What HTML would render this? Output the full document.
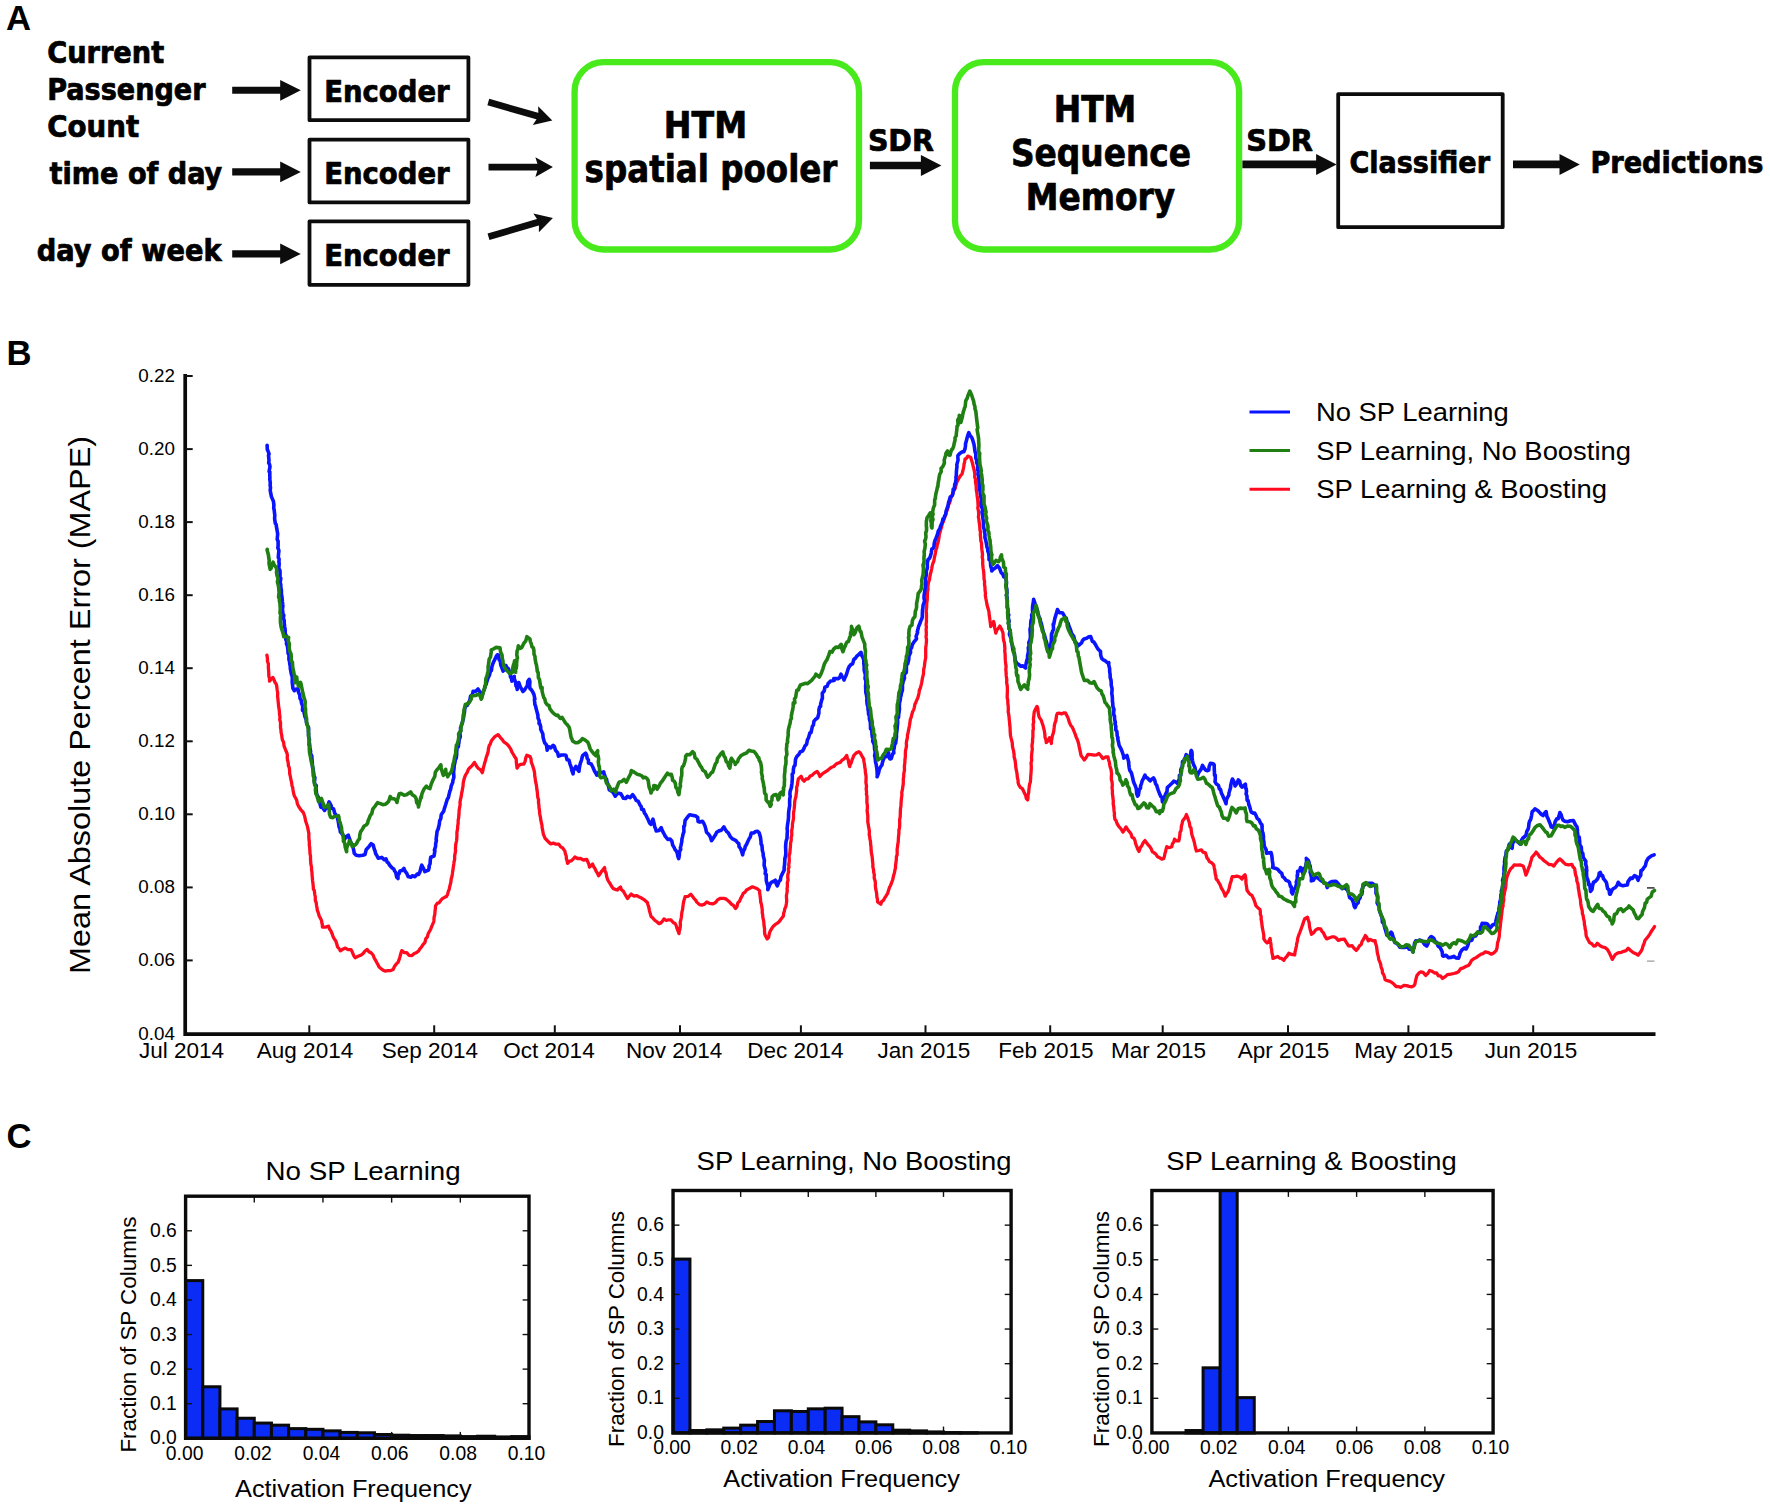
<!DOCTYPE html>
<html lang="en">
<head>
<meta charset="utf-8">
<title>HTM spatial pooler figure</title>
<style>
html,body{margin:0;padding:0;background:#fff;}
body{width:1770px;height:1511px;overflow:hidden;}
svg{display:block;}
text{white-space:pre;}
</style>
</head>
<body>
<svg width="1770" height="1511" viewBox="0 0 1770 1511">
<rect x="0" y="0" width="1770" height="1511" fill="#fff"/>
<text x="6" y="30" font-family='"Liberation Sans", Arial, Helvetica, sans-serif' font-size="34.7" font-weight="bold" text-anchor="start" fill="#000">A</text>
<text x="6.4" y="365" font-family='"Liberation Sans", Arial, Helvetica, sans-serif' font-size="34.7" font-weight="bold" text-anchor="start" fill="#000">B</text>
<text x="6.6" y="1148" font-family='"Liberation Sans", Arial, Helvetica, sans-serif' font-size="34.7" font-weight="bold" text-anchor="start" fill="#000">C</text>
<g id="panelA">
<text x="47.2" y="63.3" font-family='"DejaVu Sans Condensed", "DejaVu Sans", "Liberation Sans", sans-serif' font-size="30" font-weight="bold" text-anchor="start" fill="#000" textLength="117" lengthAdjust="spacingAndGlyphs" stroke="#000" stroke-width="0.7" stroke-linejoin="round">Current</text>
<text x="47.2" y="100.1" font-family='"DejaVu Sans Condensed", "DejaVu Sans", "Liberation Sans", sans-serif' font-size="30" font-weight="bold" text-anchor="start" fill="#000" textLength="158.4" lengthAdjust="spacingAndGlyphs" stroke="#000" stroke-width="0.7" stroke-linejoin="round">Passenger</text>
<text x="47.2" y="136.8" font-family='"DejaVu Sans Condensed", "DejaVu Sans", "Liberation Sans", sans-serif' font-size="30" font-weight="bold" text-anchor="start" fill="#000" textLength="92" lengthAdjust="spacingAndGlyphs" stroke="#000" stroke-width="0.7" stroke-linejoin="round">Count</text>
<text x="49.6" y="183.8" font-family='"DejaVu Sans Condensed", "DejaVu Sans", "Liberation Sans", sans-serif' font-size="30" font-weight="bold" text-anchor="start" fill="#000" textLength="172.6" lengthAdjust="spacingAndGlyphs" stroke="#000" stroke-width="0.7" stroke-linejoin="round">time of day</text>
<text x="36.8" y="260.9" font-family='"DejaVu Sans Condensed", "DejaVu Sans", "Liberation Sans", sans-serif' font-size="30" font-weight="bold" text-anchor="start" fill="#000" textLength="184.8" lengthAdjust="spacingAndGlyphs" stroke="#000" stroke-width="0.7" stroke-linejoin="round">day of week</text>
<line x1="232.20" y1="90.30" x2="281.70" y2="90.30" stroke="#0c0c0c" stroke-width="7.1"/>
<polygon points="300.80,90.30 280.20,100.70 280.20,90.30 280.20,79.90" fill="#0c0c0c"/>
<line x1="232.20" y1="171.90" x2="281.70" y2="171.90" stroke="#0c0c0c" stroke-width="7.1"/>
<polygon points="300.80,171.90 280.20,182.30 280.20,171.90 280.20,161.50" fill="#0c0c0c"/>
<line x1="232.20" y1="253.90" x2="281.70" y2="253.90" stroke="#0c0c0c" stroke-width="7.1"/>
<polygon points="300.80,253.90 280.20,264.30 280.20,253.90 280.20,243.50" fill="#0c0c0c"/>
<rect x="309.5" y="57.3" width="158.9" height="62.9" fill="#fff" stroke="#0c0c0c" stroke-width="3.8" stroke-linejoin="round"/>
<text x="324.2" y="102.4" font-family='"DejaVu Sans Condensed", "DejaVu Sans", "Liberation Sans", sans-serif' font-size="30" font-weight="bold" text-anchor="start" fill="#000" textLength="125.4" lengthAdjust="spacingAndGlyphs" stroke="#000" stroke-width="0.7" stroke-linejoin="round">Encoder</text>
<rect x="309.5" y="139.7" width="158.9" height="62.7" fill="#fff" stroke="#0c0c0c" stroke-width="3.8" stroke-linejoin="round"/>
<text x="324.2" y="183.9" font-family='"DejaVu Sans Condensed", "DejaVu Sans", "Liberation Sans", sans-serif' font-size="30" font-weight="bold" text-anchor="start" fill="#000" textLength="125.4" lengthAdjust="spacingAndGlyphs" stroke="#000" stroke-width="0.7" stroke-linejoin="round">Encoder</text>
<rect x="309.5" y="221.3" width="158.9" height="63.5" fill="#fff" stroke="#0c0c0c" stroke-width="3.8" stroke-linejoin="round"/>
<text x="324.2" y="265.8" font-family='"DejaVu Sans Condensed", "DejaVu Sans", "Liberation Sans", sans-serif' font-size="30" font-weight="bold" text-anchor="start" fill="#000" textLength="125.4" lengthAdjust="spacingAndGlyphs" stroke="#000" stroke-width="0.7" stroke-linejoin="round">Encoder</text>
<line x1="488.30" y1="102.10" x2="539.80" y2="116.83" stroke="#0c0c0c" stroke-width="6.8"/>
<polygon points="552.30,120.40 532.78,125.01 538.36,116.41 538.17,106.17" fill="#0c0c0c"/>
<line x1="488.50" y1="167.10" x2="539.90" y2="167.10" stroke="#0c0c0c" stroke-width="6.8"/>
<polygon points="552.90,167.10 535.40,176.90 538.40,167.10 535.40,157.30" fill="#0c0c0c"/>
<line x1="488.50" y1="236.80" x2="540.43" y2="221.56" stroke="#0c0c0c" stroke-width="6.8"/>
<polygon points="552.90,217.90 538.87,232.23 538.99,221.98 533.35,213.42" fill="#0c0c0c"/>
<rect x="574.6" y="62.2" width="284.4" height="187.3" rx="29" ry="29" fill="#fff" stroke="#48ea1c" stroke-width="6.3"/>
<text x="705.5" y="137.7" font-family='"DejaVu Sans Condensed", "DejaVu Sans", "Liberation Sans", sans-serif' font-size="37" font-weight="bold" text-anchor="middle" fill="#000" textLength="83.3" lengthAdjust="spacingAndGlyphs" stroke="#000" stroke-width="0.7" stroke-linejoin="round">HTM</text>
<text x="711.0" y="181.7" font-family='"DejaVu Sans Condensed", "DejaVu Sans", "Liberation Sans", sans-serif' font-size="37" font-weight="bold" text-anchor="middle" fill="#000" textLength="252.8" lengthAdjust="spacingAndGlyphs" stroke="#000" stroke-width="0.7" stroke-linejoin="round">spatial pooler</text>
<text x="867.9" y="151.3" font-family='"DejaVu Sans Condensed", "DejaVu Sans", "Liberation Sans", sans-serif' font-size="30" font-weight="bold" text-anchor="start" fill="#000" textLength="66" lengthAdjust="spacingAndGlyphs" stroke="#000" stroke-width="0.7" stroke-linejoin="round">SDR</text>
<line x1="869.90" y1="165.50" x2="922.40" y2="165.50" stroke="#0c0c0c" stroke-width="7.6"/>
<polygon points="941.40,165.50 920.90,176.00 920.90,165.50 920.90,155.00" fill="#0c0c0c"/>
<rect x="955" y="62.2" width="284.1" height="187.3" rx="29" ry="29" fill="#fff" stroke="#48ea1c" stroke-width="6.3"/>
<text x="1095" y="122.3" font-family='"DejaVu Sans Condensed", "DejaVu Sans", "Liberation Sans", sans-serif' font-size="37" font-weight="bold" text-anchor="middle" fill="#000" textLength="82.6" lengthAdjust="spacingAndGlyphs" stroke="#000" stroke-width="0.7" stroke-linejoin="round">HTM</text>
<text x="1101" y="165.6" font-family='"DejaVu Sans Condensed", "DejaVu Sans", "Liberation Sans", sans-serif' font-size="37" font-weight="bold" text-anchor="middle" fill="#000" textLength="180.2" lengthAdjust="spacingAndGlyphs" stroke="#000" stroke-width="0.7" stroke-linejoin="round">Sequence</text>
<text x="1100.5" y="210.4" font-family='"DejaVu Sans Condensed", "DejaVu Sans", "Liberation Sans", sans-serif' font-size="37" font-weight="bold" text-anchor="middle" fill="#000" textLength="149.5" lengthAdjust="spacingAndGlyphs" stroke="#000" stroke-width="0.7" stroke-linejoin="round">Memory</text>
<text x="1246.2" y="150.6" font-family='"DejaVu Sans Condensed", "DejaVu Sans", "Liberation Sans", sans-serif' font-size="30" font-weight="bold" text-anchor="start" fill="#000" textLength="66.8" lengthAdjust="spacingAndGlyphs" stroke="#000" stroke-width="0.7" stroke-linejoin="round">SDR</text>
<line x1="1242.40" y1="164.40" x2="1317.60" y2="164.40" stroke="#0c0c0c" stroke-width="7.6"/>
<polygon points="1336.60,164.40 1316.10,174.90 1316.10,164.40 1316.10,153.90" fill="#0c0c0c"/>
<rect x="1338.2" y="94.1" width="164.5" height="133.1" fill="#fff" stroke="#0c0c0c" stroke-width="3.8" stroke-linejoin="round"/>
<text x="1349.4" y="173" font-family='"DejaVu Sans Condensed", "DejaVu Sans", "Liberation Sans", sans-serif' font-size="30" font-weight="bold" text-anchor="start" fill="#000" textLength="140.6" lengthAdjust="spacingAndGlyphs" stroke="#000" stroke-width="0.7" stroke-linejoin="round">Classifier</text>
<line x1="1513.00" y1="164.40" x2="1561.00" y2="164.40" stroke="#0c0c0c" stroke-width="7.6"/>
<polygon points="1579.80,164.40 1559.50,174.90 1559.50,164.40 1559.50,153.90" fill="#0c0c0c"/>
<text x="1590.4" y="173" font-family='"DejaVu Sans Condensed", "DejaVu Sans", "Liberation Sans", sans-serif' font-size="30" font-weight="bold" text-anchor="start" fill="#000" textLength="173" lengthAdjust="spacingAndGlyphs" stroke="#000" stroke-width="0.7" stroke-linejoin="round">Predictions</text>
</g>
<g id="panelB">
<path d="M266.9,655.1 L267.4,658.1 L267.5,661.5 L268.4,663.8 L268.3,666.7 L268.6,670.8 L268.8,673.3 L268.8,675.8 L269.5,678.6 L269.5,681.2 L270.9,679.5 L272.9,677.5 L273.7,679.1 L275.1,682.5 L276.4,684.4 L276.9,687.5 L277.2,689.9 L277.7,693.0 L277.6,696.5 L277.8,697.9 L278.2,702.0 L278.4,703.9 L278.6,706.3 L279.0,708.5 L279.4,711.5 L279.5,714.1 L280.0,717.2 L279.7,719.5 L280.5,722.5 L280.5,725.2 L280.5,727.5 L281.0,730.4 L281.0,732.0 L281.8,735.7 L281.9,737.3 L282.4,740.0 L283.6,742.3 L284.0,745.8 L284.8,747.9 L285.8,750.5 L286.9,753.0 L287.4,755.2 L287.2,757.5 L287.6,760.6 L288.2,762.5 L288.4,765.8 L289.2,767.4 L289.6,770.5 L289.7,773.9 L290.3,776.2 L290.9,779.4 L291.5,782.1 L292.0,785.6 L292.7,787.5 L293.0,790.0 L293.7,793.8 L294.4,796.0 L295.7,798.3 L296.7,800.2 L297.4,803.9 L298.6,806.4 L300.2,808.9 L302.1,811.2 L303.4,812.7 L304.6,816.0 L305.0,817.8 L305.6,821.0 L306.3,823.1 L307.2,825.7 L307.8,828.1 L308.4,831.3 L308.9,833.9 L308.8,836.3 L309.0,839.9 L309.3,841.6 L309.3,845.3 L309.7,847.4 L309.9,851.1 L310.0,853.9 L310.5,855.8 L310.5,859.3 L310.6,861.0 L310.9,864.3 L311.6,867.5 L311.5,869.1 L312.0,872.9 L312.1,875.6 L312.3,877.1 L312.6,881.0 L312.9,882.9 L313.2,885.8 L313.4,889.1 L314.3,890.5 L314.8,894.8 L315.3,896.7 L315.3,900.3 L316.2,902.7 L316.5,905.3 L316.9,907.3 L317.3,910.2 L318.4,913.1 L319.2,916.0 L320.6,918.6 L321.6,920.8 L321.9,923.4 L322.3,924.1 L322.4,927.0 L325.5,927.1 L328.6,926.2 L329.5,929.1 L331.0,931.1 L332.2,934.0 L333.0,936.4 L334.5,939.3 L335.8,941.0 L337.0,944.8 L337.6,947.0 L339.4,949.0 L340.3,950.7 L342.8,949.3 L345.3,948.1 L348.0,949.7 L351.1,949.7 L352.3,952.1 L354.1,956.3 L355.2,957.7 L358.1,956.3 L361.2,955.0 L363.1,953.5 L365.0,951.0 L367.2,949.4 L369.1,951.9 L370.9,952.6 L373.1,955.0 L374.2,958.0 L375.6,960.4 L376.6,962.2 L378.0,964.7 L379.1,967.0 L380.9,968.5 L383.1,970.2 L385.0,971.1 L387.9,970.6 L390.2,970.7 L393.1,969.5 L394.6,966.3 L396.5,963.7 L398.1,962.3 L399.0,959.9 L399.9,957.0 L400.9,953.2 L401.8,950.6 L404.1,952.6 L406.7,952.7 L409.1,955.3 L411.9,955.6 L414.3,953.5 L416.7,952.5 L418.8,950.7 L420.0,948.7 L421.7,946.7 L423.0,944.6 L424.9,942.5 L425.8,938.7 L427.4,936.9 L428.2,933.6 L429.7,931.0 L430.6,929.5 L431.6,926.6 L432.6,924.3 L433.7,921.9 L433.9,920.4 L434.1,917.2 L434.8,914.3 L435.0,911.4 L435.4,908.3 L435.5,905.9 L437.4,903.1 L439.0,902.9 L440.7,900.5 L442.4,898.6 L444.6,897.3 L446.5,896.4 L447.6,894.5 L448.3,891.4 L449.2,889.3 L449.6,887.2 L450.3,884.3 L450.9,882.0 L451.2,878.9 L451.9,876.6 L452.4,873.7 L452.6,871.7 L453.1,869.1 L453.3,867.2 L453.8,864.0 L454.0,862.1 L454.7,859.1 L454.6,856.1 L455.2,852.9 L455.6,851.0 L455.4,848.6 L455.7,844.7 L456.3,842.0 L456.6,840.5 L456.9,836.7 L456.9,834.1 L456.9,832.2 L457.6,828.6 L457.7,826.0 L458.1,823.8 L458.2,820.0 L458.6,818.1 L458.9,815.0 L459.0,813.6 L459.1,810.2 L459.7,807.0 L460.2,804.0 L459.9,802.7 L460.4,799.7 L461.1,797.0 L461.6,793.4 L462.1,791.4 L462.6,787.9 L463.0,786.5 L463.2,783.0 L463.8,780.2 L464.5,777.7 L465.6,774.9 L467.2,772.4 L468.5,769.1 L470.1,767.5 L472.1,765.6 L474.4,762.4 L475.7,764.7 L477.0,766.8 L478.2,768.3 L480.4,769.7 L482.3,772.7 L482.9,770.4 L483.5,767.1 L484.0,765.7 L484.8,762.5 L485.5,760.5 L486.2,757.4 L487.2,754.9 L488.1,751.8 L488.5,748.5 L489.2,745.7 L490.3,744.0 L491.4,740.8 L493.0,738.9 L494.3,737.1 L496.0,735.9 L498.1,734.6 L500.2,737.3 L502.1,739.4 L503.8,741.9 L506.4,743.6 L508.1,745.2 L509.4,747.0 L510.9,749.4 L511.7,751.7 L513.1,754.0 L514.7,756.8 L516.2,759.0 L516.4,762.8 L516.7,765.6 L517.1,768.2 L518.5,765.7 L520.0,764.7 L522.3,764.1 L523.9,764.0 L525.1,761.4 L525.9,757.4 L526.8,755.3 L530.1,756.6 L531.0,758.8 L531.3,762.1 L532.4,765.0 L533.3,767.7 L533.9,769.7 L534.6,772.9 L534.7,775.8 L535.2,778.5 L535.3,780.1 L535.9,782.9 L536.5,785.9 L536.9,789.6 L537.3,791.9 L537.5,794.3 L537.8,797.7 L538.5,799.4 L538.5,803.0 L538.9,805.0 L539.0,808.0 L539.4,809.6 L539.7,813.5 L540.1,815.7 L540.5,817.8 L540.9,820.7 L541.3,822.5 L542.0,825.3 L542.1,827.7 L542.8,831.0 L543.3,834.0 L544.2,836.1 L545.1,838.3 L546.7,840.0 L548.7,842.1 L550.9,843.9 L553.3,843.1 L556.1,844.2 L558.8,844.1 L560.7,846.9 L562.7,848.0 L564.9,851.1 L565.2,853.0 L566.3,856.2 L566.3,858.7 L566.9,860.2 L567.6,863.3 L569.6,861.1 L571.1,860.9 L573.0,859.3 L574.9,857.0 L577.4,858.5 L580.7,858.5 L583.4,860.0 L586.8,859.5 L587.6,861.3 L588.8,864.0 L589.5,867.1 L591.3,865.6 L592.6,864.0 L593.7,866.8 L594.8,868.3 L596.2,871.3 L597.2,872.8 L598.6,875.8 L600.0,874.0 L601.3,871.6 L602.7,870.0 L604.6,867.6 L604.9,870.9 L606.1,873.1 L606.7,876.7 L607.7,879.7 L609.1,882.2 L610.2,883.7 L611.4,886.0 L613.2,888.6 L615.2,889.3 L617.5,890.0 L618.6,888.5 L620.5,887.1 L621.5,889.8 L623.5,891.4 L624.6,893.5 L626.1,896.1 L627.5,898.5 L629.1,896.5 L631.2,894.1 L633.7,896.0 L636.9,895.6 L639.4,897.1 L641.9,898.3 L644.8,900.2 L647.3,902.5 L648.2,905.6 L648.9,907.7 L649.4,910.6 L650.4,914.1 L651.1,916.6 L653.1,918.3 L655.0,920.5 L657.1,921.9 L659.1,923.7 L660.7,923.0 L662.5,921.2 L664.0,918.9 L666.3,920.5 L668.5,919.8 L670.9,919.9 L673.2,922.5 L675.2,923.6 L676.3,925.9 L676.9,928.2 L678.2,931.5 L679.0,933.6 L679.3,931.0 L680.0,928.8 L680.4,925.0 L680.2,922.2 L680.7,920.5 L681.3,917.5 L681.7,914.1 L681.9,912.1 L682.6,909.4 L682.8,907.4 L683.3,903.6 L683.7,901.5 L684.6,898.4 L685.1,896.6 L688.2,896.3 L690.8,894.3 L692.4,896.1 L693.9,898.4 L695.6,900.1 L696.8,902.1 L699.5,904.6 L701.7,905.1 L704.0,904.4 L706.8,902.0 L709.5,903.4 L712.6,903.9 L714.4,903.2 L716.2,901.9 L717.5,899.9 L720.4,898.3 L723.6,898.3 L725.7,898.9 L727.5,900.3 L729.7,902.1 L731.4,904.2 L733.5,905.5 L735.6,908.5 L737.0,906.6 L737.8,902.9 L739.5,901.3 L740.7,898.4 L741.9,896.3 L743.2,893.3 L745.2,892.0 L746.5,889.9 L749.7,888.3 L752.5,886.8 L754.8,887.7 L756.9,888.5 L759.6,890.7 L759.7,893.3 L760.1,895.7 L760.5,899.2 L760.7,902.2 L761.3,903.8 L761.8,906.7 L762.3,910.2 L762.2,912.4 L762.7,915.1 L762.9,917.6 L763.6,920.6 L763.8,922.2 L764.0,925.3 L764.6,928.9 L764.5,931.1 L764.8,934.2 L765.5,936.0 L767.2,938.9 L768.6,937.4 L769.3,933.8 L770.1,931.3 L771.5,928.9 L773.1,926.4 L775.0,924.7 L777.4,923.2 L779.3,921.5 L780.9,919.2 L783.4,916.0 L783.7,913.1 L784.3,911.5 L784.7,909.2 L785.9,906.3 L786.3,904.0 L786.7,901.1 L786.6,899.3 L786.4,895.7 L786.7,894.1 L787.3,890.4 L787.0,888.9 L787.4,886.4 L787.3,882.7 L788.1,880.0 L787.7,877.1 L787.9,874.2 L788.6,871.9 L788.3,868.7 L789.0,867.5 L788.7,864.9 L789.3,861.1 L789.2,858.7 L789.1,855.6 L789.9,853.0 L790.0,851.1 L790.3,847.8 L790.5,845.0 L790.6,843.0 L791.3,839.9 L791.1,837.7 L791.8,835.2 L791.7,831.0 L792.0,828.6 L792.4,827.1 L792.4,824.2 L793.2,819.9 L793.5,818.6 L793.5,815.7 L793.5,813.1 L794.0,810.0 L794.4,806.6 L794.6,804.2 L794.7,801.6 L795.2,799.0 L795.8,797.2 L796.2,794.1 L796.7,790.2 L796.6,787.4 L797.4,784.9 L797.8,781.8 L798.3,779.0 L799.6,777.7 L801.2,776.3 L802.6,779.7 L804.1,781.2 L806.0,779.0 L808.2,778.9 L810.2,776.0 L812.2,775.2 L814.3,773.1 L817.1,771.4 L818.7,773.7 L819.9,776.5 L821.9,774.3 L823.8,772.8 L826.0,771.5 L828.3,769.8 L831.1,767.5 L833.7,766.5 L835.8,764.3 L837.7,763.3 L840.2,762.4 L842.0,760.2 L843.8,759.1 L845.2,757.6 L846.7,755.4 L847.4,758.2 L848.3,759.9 L848.5,761.9 L849.3,765.3 L849.7,766.6 L850.3,764.4 L851.2,762.9 L852.2,759.5 L853.0,757.6 L853.9,755.3 L856.1,753.1 L858.9,751.7 L860.4,753.1 L862.4,756.9 L863.6,758.7 L864.0,761.7 L864.6,765.1 L864.7,766.8 L865.3,769.9 L865.3,771.8 L865.8,774.6 L866.1,776.9 L866.0,780.5 L865.9,782.5 L866.5,785.9 L866.2,788.7 L866.6,792.3 L866.4,794.2 L867.0,796.5 L866.9,798.9 L866.9,802.5 L867.4,805.5 L867.4,808.4 L867.1,810.0 L867.4,813.1 L867.8,815.4 L867.8,818.4 L867.8,822.1 L868.3,824.6 L868.4,825.9 L868.9,828.2 L869.4,831.4 L869.2,834.8 L869.7,836.6 L869.9,838.8 L870.5,841.5 L870.6,844.3 L871.0,846.8 L871.1,850.2 L871.4,853.2 L872.0,855.9 L872.3,857.8 L872.5,861.0 L872.9,864.1 L872.8,866.6 L873.6,870.0 L873.7,872.3 L874.3,874.6 L874.2,878.0 L875.1,881.0 L875.4,882.8 L875.3,885.8 L875.7,888.9 L876.3,891.7 L876.6,893.2 L876.9,897.3 L877.5,899.4 L877.6,902.0 L880.8,904.2 L881.7,901.5 L883.3,900.6 L884.7,897.9 L885.9,896.2 L887.5,893.7 L888.5,890.4 L889.7,886.8 L890.5,885.6 L891.6,882.7 L892.6,880.0 L893.1,878.0 L893.8,874.8 L894.5,872.8 L894.9,870.1 L895.5,868.0 L895.5,865.8 L896.0,862.1 L896.3,859.7 L896.4,856.9 L897.1,854.9 L897.2,852.7 L897.1,849.2 L897.6,846.3 L897.7,844.8 L898.2,842.1 L898.4,838.5 L898.5,836.7 L898.9,833.3 L898.9,829.9 L899.4,828.6 L899.7,825.4 L899.7,821.6 L899.6,820.0 L900.2,816.8 L900.3,813.9 L900.4,810.9 L900.5,808.5 L901.0,805.8 L901.0,803.8 L901.2,801.0 L901.4,798.5 L901.9,795.3 L901.8,792.3 L902.5,789.2 L902.8,786.6 L903.2,784.4 L903.3,782.3 L903.3,778.8 L903.8,776.3 L903.7,774.2 L904.5,770.1 L904.4,768.4 L904.4,765.7 L904.9,762.6 L904.9,759.9 L905.4,756.3 L905.3,754.9 L905.5,750.6 L905.9,749.3 L906.5,745.9 L906.3,743.4 L906.6,741.0 L907.4,737.6 L907.5,734.7 L908.1,732.7 L908.4,730.9 L909.0,727.9 L909.5,725.3 L909.9,722.4 L910.4,719.1 L911.1,717.6 L911.9,714.2 L912.7,711.5 L913.6,710.0 L914.3,707.6 L914.9,704.3 L915.8,702.5 L916.6,700.5 L917.6,698.4 L918.4,695.8 L919.0,693.0 L919.4,690.0 L920.3,688.2 L921.3,684.3 L921.7,682.5 L922.2,679.6 L922.5,677.8 L923.5,673.8 L923.6,670.5 L923.9,668.3 L924.4,666.3 L924.9,661.8 L925.4,659.3 L925.7,657.7 L925.7,653.4 L925.7,651.0 L925.7,648.1 L926.1,645.0 L926.4,642.1 L926.5,639.5 L926.0,636.8 L926.3,635.1 L926.3,632.5 L926.1,629.7 L926.4,627.1 L926.1,625.0 L926.5,620.7 L926.4,619.6 L926.5,616.6 L926.4,613.3 L926.2,611.1 L926.6,608.0 L926.7,605.2 L926.8,602.5 L927.2,600.6 L927.3,598.5 L927.4,594.5 L927.5,591.6 L928.0,589.9 L927.9,586.6 L928.2,584.0 L928.7,581.7 L929.5,579.6 L930.0,575.8 L930.8,572.5 L931.2,570.8 L931.7,568.6 L932.3,565.3 L933.1,562.8 L933.8,561.3 L934.3,558.2 L934.8,555.8 L935.4,553.1 L936.0,549.7 L936.8,547.8 L937.1,545.2 L938.0,542.6 L938.7,539.5 L939.2,535.7 L939.4,534.3 L940.4,530.9 L941.2,528.1 L941.7,526.8 L942.4,523.0 L943.3,521.9 L944.1,518.7 L944.8,517.3 L946.0,513.3 L946.5,511.4 L947.2,510.2 L948.3,506.5 L948.8,504.2 L949.6,503.0 L950.4,500.6 L951.1,497.1 L952.1,495.1 L953.1,492.4 L954.3,489.8 L955.2,488.4 L955.9,485.5 L956.9,482.1 L958.4,479.2 L959.2,477.7 L960.3,475.8 L961.9,474.2 L962.4,472.5 L963.3,468.9 L963.8,466.3 L964.1,464.0 L964.8,461.1 L965.0,459.2 L966.6,458.1 L967.8,456.1 L970.8,457.4 L971.5,460.4 L972.0,461.5 L972.6,463.8 L973.3,467.0 L973.9,469.1 L974.5,471.9 L974.8,474.5 L974.7,477.2 L975.5,479.3 L975.5,482.5 L976.1,485.2 L976.2,487.6 L976.3,490.2 L976.9,493.1 L977.1,495.7 L977.5,498.2 L977.8,500.3 L977.9,502.7 L978.1,505.4 L977.8,508.2 L978.5,511.2 L978.7,514.4 L978.4,517.2 L978.8,518.8 L979.1,522.1 L979.6,524.8 L979.8,527.9 L980.0,530.4 L980.5,531.7 L980.3,534.4 L980.7,538.5 L980.8,540.9 L981.5,542.8 L981.6,545.1 L981.8,549.2 L982.2,551.8 L982.5,554.5 L982.2,557.4 L982.7,559.3 L982.7,563.4 L982.8,565.5 L983.2,568.8 L983.6,571.0 L983.8,573.1 L984.0,576.8 L984.0,578.8 L984.6,581.3 L984.5,584.6 L985.0,587.4 L985.0,589.8 L985.5,593.3 L985.3,595.2 L985.9,598.8 L986.4,601.3 L987.0,604.7 L987.4,606.2 L988.3,609.2 L989.0,612.1 L989.2,615.3 L989.7,618.1 L990.0,620.8 L990.4,623.4 L990.7,626.5 L992.2,624.2 L993.6,621.5 L994.3,624.1 L994.6,627.5 L995.1,629.7 L995.8,633.1 L996.9,629.9 L998.7,627.9 L999.8,626.1 L1001.3,628.7 L1002.8,632.4 L1003.1,634.0 L1003.2,637.6 L1003.8,640.9 L1004.4,642.8 L1004.7,646.1 L1004.9,649.2 L1004.7,650.9 L1005.1,653.9 L1005.2,656.4 L1005.2,658.1 L1005.4,660.9 L1005.8,664.8 L1006.1,666.3 L1005.8,669.6 L1006.1,672.4 L1006.2,675.4 L1006.4,676.7 L1006.8,680.1 L1006.6,682.5 L1007.1,684.9 L1007.3,686.9 L1007.4,690.9 L1007.3,693.3 L1007.2,696.4 L1007.2,697.9 L1007.8,700.3 L1007.8,703.1 L1008.2,706.0 L1008.3,709.3 L1008.2,712.1 L1008.6,713.7 L1009.0,716.6 L1009.3,720.1 L1009.6,722.8 L1009.7,724.5 L1010.1,727.8 L1010.1,729.8 L1010.3,732.9 L1010.5,735.7 L1011.1,738.2 L1011.6,740.0 L1012.3,743.2 L1012.5,746.6 L1013.1,749.2 L1013.5,750.6 L1014.1,754.4 L1014.1,756.9 L1014.7,758.8 L1015.2,761.2 L1015.6,764.4 L1015.7,766.6 L1016.3,770.2 L1016.7,771.8 L1017.1,774.5 L1017.3,777.2 L1018.1,780.6 L1018.1,782.8 L1018.7,784.6 L1020.4,787.5 L1022.1,788.4 L1023.5,790.9 L1024.5,793.3 L1025.7,795.6 L1026.3,798.5 L1027.7,799.9 L1028.0,797.5 L1028.0,795.3 L1028.7,792.5 L1028.9,789.6 L1029.2,787.0 L1029.6,784.2 L1030.3,782.4 L1030.6,779.0 L1030.7,776.1 L1031.0,773.1 L1031.1,771.5 L1031.3,767.6 L1031.2,764.9 L1031.0,763.1 L1031.7,760.3 L1031.5,758.0 L1031.6,755.7 L1031.8,753.2 L1032.3,749.1 L1032.0,746.4 L1032.0,745.1 L1032.6,742.0 L1032.5,739.4 L1032.9,737.0 L1032.9,733.9 L1032.9,730.6 L1033.4,729.0 L1033.1,724.5 L1033.7,722.1 L1033.4,719.3 L1033.6,717.5 L1033.9,715.1 L1034.2,711.9 L1035.8,708.5 L1037.0,706.4 L1037.8,708.4 L1038.1,712.1 L1038.7,715.3 L1039.3,717.4 L1041.2,720.1 L1042.3,723.4 L1043.1,725.8 L1043.8,728.7 L1044.4,731.1 L1044.9,735.0 L1045.0,737.3 L1045.9,739.8 L1046.3,742.7 L1048.1,740.8 L1049.5,737.7 L1050.6,740.4 L1051.4,743.5 L1051.5,740.6 L1052.1,737.4 L1052.4,735.5 L1053.1,733.9 L1053.8,730.9 L1054.2,727.4 L1054.3,725.9 L1055.1,722.3 L1055.7,721.3 L1056.2,718.1 L1056.6,715.1 L1057.4,713.4 L1059.6,713.2 L1061.5,713.9 L1063.5,713.0 L1065.4,712.8 L1066.4,714.7 L1067.5,716.7 L1068.4,719.0 L1069.3,722.2 L1070.8,725.5 L1072.1,726.9 L1073.1,728.9 L1074.5,732.5 L1075.4,734.7 L1076.3,737.5 L1077.1,739.1 L1077.9,741.3 L1078.7,744.0 L1079.2,746.9 L1079.9,749.9 L1080.3,751.9 L1081.0,755.4 L1082.9,757.9 L1084.3,760.0 L1085.7,758.3 L1086.9,756.2 L1088.0,754.4 L1091.1,754.7 L1094.1,755.1 L1096.7,754.9 L1098.9,753.5 L1101.1,756.0 L1102.8,758.6 L1105.8,757.0 L1108.0,757.0 L1108.5,759.7 L1109.2,761.8 L1109.8,765.2 L1110.2,767.2 L1111.0,769.3 L1111.4,772.2 L1111.6,773.7 L1111.3,777.4 L1111.4,779.8 L1112.1,782.1 L1112.3,785.7 L1112.0,787.4 L1112.4,790.5 L1112.4,793.8 L1112.8,796.6 L1113.0,798.6 L1113.3,800.9 L1113.2,803.9 L1113.8,807.3 L1114.0,810.4 L1114.5,813.8 L1114.3,815.2 L1114.9,819.2 L1116.0,820.6 L1117.4,824.3 L1118.9,826.5 L1121.0,828.8 L1123.0,832.1 L1124.5,829.6 L1126.0,826.9 L1127.7,829.7 L1129.4,831.8 L1131.0,833.8 L1132.0,837.3 L1133.9,838.3 L1135.0,840.6 L1135.6,843.7 L1136.6,846.2 L1137.7,849.1 L1139.0,851.4 L1140.3,847.8 L1142.0,845.4 L1143.1,842.8 L1145.0,840.6 L1146.4,842.6 L1148.2,844.9 L1150.0,846.9 L1151.1,848.7 L1152.3,851.6 L1153.9,852.6 L1156.0,854.3 L1157.6,856.8 L1159.6,857.7 L1161.7,859.1 L1163.6,858.7 L1164.5,856.0 L1164.9,853.5 L1165.5,852.0 L1166.0,849.4 L1166.8,846.7 L1169.2,847.7 L1171.8,846.7 L1172.4,843.8 L1173.8,841.9 L1174.5,839.1 L1176.4,840.9 L1178.8,840.9 L1179.3,838.7 L1179.9,834.6 L1180.0,832.4 L1181.1,830.2 L1181.4,826.0 L1181.9,824.7 L1182.6,821.0 L1184.2,818.8 L1185.4,817.2 L1186.4,814.5 L1187.6,817.6 L1188.5,820.2 L1189.4,823.0 L1190.0,826.7 L1191.0,828.0 L1191.4,831.5 L1191.7,834.0 L1192.6,836.9 L1193.5,839.4 L1194.3,842.3 L1194.8,844.8 L1195.4,847.5 L1196.4,851.0 L1198.7,850.5 L1201.3,849.8 L1203.1,852.2 L1205.5,852.9 L1206.2,855.3 L1207.1,858.3 L1208.0,859.0 L1209.5,861.8 L1211.2,862.5 L1213.2,864.2 L1213.9,865.5 L1214.3,868.1 L1214.9,870.7 L1215.3,874.4 L1215.9,875.9 L1216.1,879.0 L1217.5,880.3 L1218.8,882.7 L1220.2,884.9 L1221.4,888.2 L1222.5,889.7 L1223.8,892.2 L1225.2,896.1 L1226.8,893.2 L1228.0,891.8 L1229.1,888.4 L1229.6,886.3 L1230.2,883.6 L1231.1,881.1 L1231.5,879.3 L1232.2,876.7 L1234.4,876.6 L1237.1,876.2 L1239.9,877.0 L1242.0,879.0 L1243.6,875.9 L1245.0,874.7 L1245.5,876.7 L1245.9,879.6 L1245.9,882.8 L1246.4,886.0 L1246.6,887.3 L1247.0,890.2 L1249.0,893.1 L1250.2,894.3 L1251.9,895.4 L1253.1,897.9 L1254.0,899.7 L1255.1,903.0 L1256.0,905.9 L1257.8,907.7 L1260.0,909.5 L1260.3,911.2 L1260.4,914.5 L1261.2,916.5 L1261.1,919.2 L1261.6,921.6 L1261.9,924.3 L1262.2,926.9 L1262.8,930.0 L1263.2,932.0 L1263.8,935.2 L1263.8,938.8 L1265.3,941.2 L1267.1,942.9 L1268.6,941.5 L1270.1,938.5 L1270.4,941.3 L1271.0,944.3 L1271.1,947.5 L1271.6,949.1 L1271.9,952.7 L1272.7,956.0 L1272.9,958.4 L1275.2,957.5 L1277.7,956.5 L1279.9,958.2 L1281.6,958.4 L1283.8,960.3 L1285.2,958.2 L1287.1,956.2 L1288.9,953.2 L1291.7,954.4 L1294.7,955.0 L1295.1,951.5 L1295.5,950.2 L1296.4,946.0 L1296.7,943.7 L1297.3,941.3 L1297.8,938.1 L1298.9,934.7 L1299.8,932.5 L1300.8,929.8 L1301.7,927.3 L1302.9,924.1 L1303.5,921.9 L1304.8,918.7 L1307.5,917.2 L1308.6,921.1 L1309.1,922.4 L1309.5,926.7 L1310.1,929.2 L1310.9,932.1 L1311.5,934.3 L1313.7,932.6 L1315.4,930.2 L1317.9,928.7 L1320.6,928.9 L1322.2,931.6 L1323.4,932.7 L1325.2,936.7 L1326.6,938.9 L1329.6,937.7 L1332.4,936.8 L1334.3,936.8 L1336.3,938.1 L1338.3,940.4 L1341.1,939.4 L1344.4,939.2 L1346.0,941.8 L1346.8,943.2 L1348.5,945.8 L1350.4,946.0 L1352.1,945.6 L1354.2,948.5 L1356.2,950.4 L1357.8,948.7 L1359.4,945.9 L1361.2,944.5 L1362.1,941.4 L1363.1,939.9 L1364.4,937.7 L1365.3,935.5 L1366.9,937.5 L1368.2,940.8 L1370.2,939.5 L1373.0,940.8 L1375.1,940.6 L1375.4,943.0 L1376.4,945.8 L1376.7,947.7 L1377.2,951.5 L1377.4,953.3 L1378.3,956.4 L1378.8,959.7 L1379.9,962.2 L1380.7,964.3 L1381.1,967.1 L1382.2,969.6 L1382.5,973.0 L1383.5,974.3 L1384.5,977.0 L1385.1,979.7 L1387.4,980.6 L1390.0,981.4 L1392.1,982.7 L1393.8,984.1 L1396.1,986.5 L1398.4,986.7 L1400.8,987.3 L1403.9,985.4 L1406.7,985.6 L1409.1,986.4 L1411.7,986.8 L1413.7,985.9 L1414.9,984.2 L1415.4,981.3 L1416.2,978.1 L1416.9,975.6 L1419.0,972.9 L1420.8,971.8 L1423.1,972.4 L1425.7,975.4 L1427.8,973.5 L1429.6,970.5 L1432.2,971.3 L1434.6,973.0 L1436.7,973.0 L1438.4,975.8 L1440.4,975.8 L1442.5,978.5 L1445.3,976.6 L1447.4,974.6 L1450.7,974.1 L1453.7,973.5 L1456.1,972.9 L1458.5,971.7 L1460.8,968.6 L1463.4,967.8 L1466.2,966.3 L1468.5,965.5 L1470.1,963.3 L1471.5,960.6 L1473.4,959.0 L1475.1,958.1 L1477.1,957.0 L1479.2,955.3 L1481.1,954.1 L1483.2,953.6 L1485.3,951.8 L1488.5,952.6 L1491.3,954.2 L1494.1,952.7 L1496.1,950.7 L1497.0,948.0 L1497.2,946.3 L1497.6,942.6 L1498.1,941.4 L1498.7,939.0 L1499.3,936.0 L1499.5,932.4 L1499.7,930.3 L1500.2,927.3 L1500.4,925.2 L1500.8,920.9 L1501.2,918.8 L1501.3,916.8 L1501.8,913.4 L1502.1,910.2 L1502.4,908.0 L1503.1,905.9 L1503.0,903.7 L1503.8,899.9 L1503.6,896.8 L1504.3,894.4 L1504.5,892.3 L1505.3,889.0 L1505.6,888.1 L1505.9,885.4 L1506.1,881.8 L1506.5,879.2 L1507.0,876.9 L1508.4,873.2 L1509.2,871.4 L1510.7,868.8 L1512.6,867.1 L1514.1,864.9 L1517.3,865.2 L1519.9,864.9 L1523.2,866.0 L1524.1,868.5 L1524.9,871.4 L1525.9,875.1 L1527.1,872.3 L1528.1,869.5 L1528.9,867.4 L1529.9,865.1 L1530.5,862.3 L1531.4,859.7 L1531.9,857.3 L1534.1,854.9 L1536.1,852.1 L1537.9,854.3 L1539.9,857.2 L1542.0,858.6 L1543.9,860.7 L1546.5,862.5 L1549.0,864.5 L1551.6,864.6 L1553.8,866.0 L1556.0,862.9 L1557.6,861.0 L1559.7,858.9 L1561.6,860.4 L1563.6,862.5 L1565.9,864.4 L1568.6,864.9 L1571.8,864.3 L1573.1,867.0 L1574.7,868.7 L1575.1,872.1 L1575.6,874.9 L1576.7,877.9 L1576.8,881.0 L1577.7,883.2 L1578.1,885.1 L1578.3,888.1 L1578.8,890.6 L1579.4,894.9 L1580.0,897.7 L1580.4,899.3 L1580.7,903.2 L1580.9,905.2 L1581.5,908.0 L1582.2,910.3 L1582.4,913.6 L1583.1,915.5 L1583.6,918.9 L1584.3,921.5 L1584.4,924.3 L1585.0,926.8 L1585.1,928.6 L1585.8,931.2 L1586.0,934.5 L1586.4,936.6 L1588.0,939.7 L1589.7,942.8 L1591.8,943.7 L1593.7,946.1 L1595.3,945.9 L1597.3,943.3 L1600.1,945.7 L1602.6,947.0 L1605.1,947.7 L1607.3,949.3 L1608.8,951.8 L1609.9,954.1 L1611.3,957.0 L1612.3,959.4 L1613.8,957.0 L1615.2,954.7 L1618.0,952.9 L1621.4,952.3 L1623.7,951.3 L1626.1,950.6 L1628.1,948.2 L1630.6,950.5 L1633.1,952.5 L1635.8,953.7 L1638.0,955.2 L1639.3,953.6 L1640.9,951.5 L1642.2,948.9 L1643.0,946.0 L1644.4,942.7 L1644.9,940.5 L1646.1,939.0 L1648.4,936.2 L1650.0,933.8 L1651.6,930.9 L1652.8,929.3 L1654.5,926.6" fill="none" stroke="#ff0a1e" stroke-width="3.3" stroke-linejoin="round" stroke-linecap="round"/>
<path d="M267.1,445.2 L267.3,449.4 L268.1,451.2 L269.1,454.1 L268.5,455.3 L269.0,460.4 L268.7,462.9 L269.6,464.6 L270.0,466.6 L269.1,471.5 L269.8,471.4 L269.8,476.5 L269.9,477.3 L269.8,479.3 L270.3,483.1 L270.1,485.0 L270.5,487.5 L270.2,490.3 L270.9,494.2 L271.4,496.6 L273.0,500.4 L273.3,500.7 L273.9,504.7 L273.7,508.0 L274.2,510.2 L274.3,511.1 L274.8,515.5 L274.7,516.8 L274.6,518.5 L275.3,523.3 L276.1,524.3 L276.8,528.9 L277.2,531.0 L277.7,534.1 L277.4,536.9 L277.2,539.6 L278.1,540.9 L278.1,546.7 L277.8,547.6 L278.9,550.7 L278.5,554.4 L278.3,557.4 L279.1,559.1 L278.9,561.9 L279.2,563.5 L278.8,568.3 L279.9,570.3 L280.1,573.2 L280.0,575.5 L280.1,577.3 L280.8,578.3 L280.2,582.5 L280.8,584.9 L280.8,587.1 L281.4,590.3 L281.4,593.2 L281.4,593.9 L282.0,597.1 L282.4,601.9 L282.7,604.3 L282.9,605.3 L282.5,609.0 L282.5,609.7 L283.0,614.6 L283.8,615.1 L283.4,618.4 L284.2,620.4 L284.2,622.9 L284.7,627.0 L285.0,628.5 L285.2,630.1 L285.2,634.0 L286.3,635.5 L285.8,639.4 L286.8,642.2 L286.4,643.5 L287.4,646.1 L287.8,649.0 L288.1,653.5 L289.0,654.9 L288.9,659.6 L289.4,660.6 L289.8,664.1 L290.3,666.5 L290.3,668.5 L291.4,674.3 L291.8,675.0 L292.3,677.9 L292.2,682.1 L292.4,683.7 L292.9,688.3 L294.4,690.7 L295.5,689.3 L298.0,688.8 L298.3,691.4 L298.8,693.0 L299.8,695.1 L300.0,698.5 L301.1,700.1 L301.6,703.6 L302.7,706.0 L302.5,710.4 L303.6,710.7 L304.8,715.8 L304.8,716.2 L306.3,719.9 L306.5,722.7 L307.5,725.8 L308.5,727.2 L308.7,729.5 L308.4,731.5 L308.7,736.9 L309.4,739.2 L309.3,742.3 L309.5,743.5 L310.0,748.0 L310.4,750.5 L310.6,751.1 L310.4,753.5 L311.8,756.0 L312.1,760.9 L312.3,762.0 L312.4,766.0 L312.6,767.9 L313.1,768.9 L313.8,774.1 L314.1,776.3 L314.9,777.6 L314.4,782.2 L314.9,784.5 L316.3,785.6 L316.0,788.2 L316.6,794.0 L316.9,794.6 L318.2,797.1 L319.2,799.3 L319.8,803.0 L320.9,807.2 L322.8,807.7 L324.6,810.4 L325.1,807.5 L326.7,808.3 L328.1,804.8 L329.1,801.9 L331.3,805.9 L331.6,808.4 L333.5,808.7 L334.8,813.4 L336.2,815.1 L337.4,816.7 L337.7,819.3 L338.3,821.4 L339.1,827.0 L339.9,828.7 L340.3,831.9 L341.5,833.1 L343.4,835.7 L344.2,839.7 L346.3,836.5 L348.3,835.2 L348.7,836.8 L349.8,839.5 L351.0,843.1 L352.2,844.3 L353.1,847.7 L353.9,851.1 L354.2,853.2 L356.2,855.3 L359.0,855.7 L362.7,855.3 L365.0,854.5 L366.2,849.6 L367.0,848.7 L368.9,846.7 L371.2,843.7 L373.2,845.0 L374.3,849.2 L375.2,851.5 L375.7,853.8 L376.7,855.3 L378.2,858.3 L381.7,857.4 L384.4,859.8 L386.0,858.9 L387.3,862.3 L388.5,863.1 L389.7,865.3 L391.9,867.7 L393.7,868.9 L394.5,870.8 L395.7,872.5 L396.8,877.3 L398.0,878.5 L398.0,875.2 L399.2,873.5 L399.9,871.0 L402.1,870.4 L403.9,868.3 L404.9,871.0 L406.6,873.1 L408.1,876.5 L410.9,877.3 L412.3,875.8 L415.0,876.7 L417.1,874.1 L418.6,874.5 L420.1,871.4 L421.0,867.4 L421.8,865.2 L423.7,868.9 L424.8,871.6 L428.5,870.1 L429.2,867.3 L429.0,866.4 L430.1,863.6 L430.3,859.9 L430.8,857.2 L434.0,856.0 L434.2,855.1 L434.9,850.6 L434.4,850.1 L435.5,846.8 L435.7,843.7 L436.4,840.3 L436.1,839.2 L436.6,835.6 L437.1,831.3 L438.4,828.5 L438.2,828.5 L439.2,824.7 L439.7,820.6 L440.8,818.6 L441.2,814.8 L442.1,813.4 L443.7,811.2 L444.2,809.1 L445.6,804.8 L446.5,801.7 L447.4,798.9 L448.3,797.8 L448.8,795.6 L449.8,791.3 L450.6,789.5 L451.3,785.7 L452.7,782.6 L453.1,779.6 L453.6,778.4 L453.9,776.6 L453.6,772.0 L453.7,770.9 L454.1,768.1 L454.2,765.6 L454.9,762.6 L455.4,759.4 L456.2,758.2 L456.7,754.6 L456.7,751.5 L457.2,747.6 L458.4,746.7 L458.5,744.3 L458.9,742.7 L459.2,739.6 L460.3,736.8 L459.8,732.8 L460.6,731.3 L460.5,727.9 L461.4,725.6 L462.4,722.7 L462.8,720.4 L463.4,718.6 L464.0,714.4 L464.5,712.1 L464.7,709.2 L465.5,706.2 L467.2,705.4 L468.6,702.7 L469.8,700.3 L470.6,696.1 L472.5,694.5 L473.1,691.2 L475.8,691.2 L478.0,689.0 L479.6,691.4 L480.1,693.5 L481.0,696.4 L482.8,693.6 L483.2,691.7 L484.4,689.2 L485.1,685.6 L486.0,684.6 L487.6,679.2 L488.1,677.9 L489.5,675.0 L490.3,671.6 L491.4,670.5 L491.9,666.7 L492.7,664.2 L493.7,661.6 L494.1,661.0 L496.2,656.4 L497.4,654.8 L498.6,655.2 L499.0,659.4 L500.3,661.2 L500.8,665.2 L501.8,667.7 L503.1,671.1 L504.9,669.1 L506.0,665.5 L506.7,667.6 L508.3,668.6 L509.4,671.5 L510.2,673.7 L510.5,677.2 L511.3,677.6 L511.8,681.1 L512.6,677.7 L514.3,676.4 L514.1,678.1 L515.6,682.4 L516.0,686.0 L516.8,686.8 L517.2,689.4 L517.6,686.5 L518.2,685.4 L518.8,682.5 L520.3,686.8 L521.4,688.7 L522.9,691.5 L524.9,689.4 L525.7,688.1 L527.4,685.4 L527.8,681.2 L529.2,679.3 L529.9,681.6 L529.6,685.5 L529.9,688.7 L531.1,689.4 L532.3,691.2 L533.9,694.3 L534.9,699.0 L534.4,699.2 L534.9,704.6 L535.5,705.6 L535.9,707.8 L537.1,712.2 L537.9,715.3 L538.0,718.0 L539.2,720.7 L539.0,723.5 L540.2,725.0 L539.9,723.9 L540.7,726.8 L540.7,729.3 L541.7,731.5 L542.8,733.8 L543.1,737.4 L544.0,740.6 L544.8,743.1 L545.9,743.9 L546.6,746.0 L547.2,750.2 L548.5,746.7 L550.9,747.8 L553.2,745.3 L554.4,746.5 L555.5,750.3 L557.6,752.6 L558.5,756.2 L561.4,755.0 L564.5,755.0 L565.9,755.2 L567.1,759.7 L568.9,760.0 L570.0,764.0 L570.4,765.2 L571.3,767.5 L571.8,770.3 L573.1,773.9 L573.3,770.9 L574.7,768.5 L575.9,766.3 L577.5,769.4 L579.0,771.4 L579.1,769.7 L579.9,764.9 L580.3,763.5 L581.4,760.2 L582.4,756.6 L582.6,755.7 L585.6,753.1 L586.7,755.4 L587.2,758.4 L588.4,759.8 L588.5,763.1 L591.2,764.0 L592.9,767.3 L594.5,771.0 L595.7,773.0 L596.8,775.1 L598.9,772.1 L601.8,772.6 L603.7,771.9 L604.4,774.8 L605.7,778.0 L606.5,779.1 L607.3,783.3 L607.6,783.2 L608.8,787.3 L609.3,790.0 L611.7,791.2 L613.0,792.4 L615.3,796.2 L617.2,793.4 L619.4,793.4 L620.9,793.8 L623.5,798.3 L625.6,798.5 L627.5,796.3 L630.2,797.6 L632.6,794.7 L634.7,797.5 L636.2,800.4 L638.3,801.4 L639.9,804.8 L641.1,806.3 L641.7,809.4 L643.4,809.5 L644.5,813.1 L645.6,814.5 L647.3,818.0 L647.9,819.1 L649.6,823.1 L651.0,824.3 L651.6,823.1 L653.0,819.2 L654.2,823.9 L654.7,826.9 L655.5,828.4 L656.2,830.9 L659.1,830.4 L661.2,827.7 L661.9,829.5 L663.2,832.4 L664.6,834.8 L665.2,836.2 L667.8,839.4 L670.0,839.0 L671.8,841.0 L672.7,845.1 L674.2,847.6 L674.9,849.4 L676.3,851.1 L677.3,853.3 L677.8,856.1 L678.7,858.6 L679.3,855.4 L679.5,851.5 L680.7,849.4 L680.4,847.6 L680.8,846.1 L681.8,841.7 L681.9,839.2 L682.5,836.9 L683.1,833.9 L683.9,831.8 L683.8,826.2 L684.5,826.1 L685.1,820.3 L686.2,818.9 L688.2,816.2 L689.6,814.7 L693.4,815.4 L695.9,816.1 L697.7,817.5 L698.1,821.5 L699.8,822.1 L702.5,821.3 L703.6,822.9 L705.1,826.4 L706.1,830.3 L706.5,832.2 L708.6,834.2 L710.1,836.5 L711.5,840.6 L713.0,838.6 L715.5,834.8 L716.7,832.3 L719.5,830.6 L721.1,830.5 L723.9,826.9 L725.0,829.1 L726.8,831.7 L728.3,832.9 L730.4,836.8 L732.5,838.9 L733.6,839.4 L735.9,840.6 L737.4,842.5 L738.8,843.7 L739.1,846.7 L740.6,848.6 L742.0,852.5 L742.6,854.8 L743.4,851.1 L744.7,849.1 L745.2,846.5 L746.5,844.5 L747.8,841.5 L749.4,838.3 L750.2,837.2 L751.3,833.0 L753.6,833.0 L755.7,831.5 L757.4,831.3 L759.1,832.6 L759.6,834.4 L760.4,836.9 L761.0,841.5 L761.1,844.1 L761.9,845.2 L762.3,849.5 L762.2,849.9 L763.2,853.6 L763.2,855.6 L764.4,860.3 L764.3,861.9 L764.1,865.2 L764.6,867.3 L765.5,870.1 L765.2,873.9 L766.3,874.6 L766.2,877.4 L766.3,880.6 L766.8,882.6 L768.0,886.4 L767.8,889.7 L768.8,887.4 L770.0,884.2 L771.2,882.4 L773.4,881.5 L775.3,880.2 L776.2,883.7 L777.3,885.8 L778.3,883.3 L779.1,881.1 L780.4,880.1 L780.9,876.7 L782.4,873.6 L784.2,870.1 L784.1,868.0 L784.6,864.3 L784.7,862.2 L784.9,858.2 L785.3,857.2 L785.8,854.1 L785.8,851.9 L785.6,846.9 L785.6,846.2 L785.8,844.1 L786.1,841.2 L787.0,838.3 L787.2,833.9 L787.4,830.6 L787.1,828.7 L787.5,825.1 L787.8,823.0 L788.0,822.1 L788.6,816.9 L788.5,817.3 L788.6,812.9 L788.7,812.0 L789.1,809.0 L789.7,805.3 L789.6,802.7 L789.7,798.9 L790.2,796.3 L789.9,794.2 L790.1,791.3 L790.6,790.0 L791.6,786.7 L791.5,786.1 L792.0,783.2 L792.3,778.9 L792.3,776.3 L792.2,774.1 L793.3,772.8 L793.4,769.0 L794.1,766.1 L795.0,765.4 L795.5,759.6 L796.1,757.8 L797.1,756.1 L799.0,754.3 L800.1,752.0 L802.8,750.8 L804.2,747.9 L804.9,746.0 L806.6,744.2 L807.5,739.5 L808.4,738.2 L809.3,735.0 L809.9,732.8 L811.0,732.7 L811.6,729.8 L812.4,726.4 L813.4,725.0 L814.0,721.1 L815.7,719.2 L817.7,717.8 L818.9,713.1 L818.9,709.8 L819.6,706.9 L820.6,706.4 L820.7,703.8 L822.0,699.0 L822.4,698.4 L822.3,693.1 L823.1,692.2 L824.2,691.0 L824.9,687.1 L827.2,686.2 L828.0,683.8 L830.6,681.0 L834.1,680.5 L833.8,678.6 L836.0,678.5 L838.1,678.6 L839.7,677.6 L841.0,674.1 L842.0,676.6 L843.2,677.6 L844.0,680.0 L845.0,677.6 L845.9,675.7 L846.6,674.0 L848.2,668.8 L849.1,666.7 L851.0,664.5 L852.6,663.9 L853.8,659.5 L855.6,658.0 L856.9,656.1 L858.9,654.3 L861.0,652.3 L861.4,654.8 L863.1,657.8 L863.8,660.4 L863.8,663.2 L863.9,664.0 L864.2,667.3 L864.2,670.3 L864.6,671.9 L865.4,674.8 L865.0,678.5 L865.9,680.8 L865.8,683.8 L865.6,685.9 L865.7,689.2 L865.8,692.3 L866.4,694.8 L866.8,697.2 L867.0,698.0 L866.8,700.4 L867.1,703.9 L868.1,707.4 L868.0,709.2 L868.4,711.3 L868.6,714.3 L869.4,716.1 L869.4,719.1 L870.3,722.1 L870.5,725.7 L870.5,728.8 L871.6,729.3 L871.9,733.0 L872.3,737.3 L872.9,737.2 L872.7,741.4 L873.4,742.6 L874.3,744.9 L874.6,749.3 L875.0,751.0 L875.2,752.6 L874.6,755.6 L875.1,757.7 L875.6,762.4 L876.1,764.0 L876.4,765.9 L877.0,769.8 L877.1,771.8 L877.3,775.9 L877.1,776.8 L878.5,773.2 L879.0,770.8 L879.3,769.4 L880.8,766.5 L882.1,764.7 L882.2,763.4 L883.1,760.2 L884.6,757.0 L886.7,756.6 L888.6,752.6 L888.7,756.2 L889.8,758.9 L891.2,758.7 L892.7,753.8 L893.8,753.1 L893.6,749.3 L894.1,748.8 L894.8,743.2 L895.6,743.4 L896.2,738.7 L896.5,737.1 L896.4,733.6 L896.8,731.9 L897.1,729.3 L897.3,726.5 L897.7,722.3 L897.5,719.2 L898.5,717.4 L898.8,713.7 L899.0,712.6 L899.5,708.7 L899.3,707.2 L899.5,702.8 L900.4,699.3 L900.3,697.6 L901.1,695.5 L901.5,692.9 L902.4,690.3 L902.5,687.0 L902.4,685.4 L903.3,681.0 L904.5,678.2 L904.2,675.5 L905.2,673.5 L906.3,672.5 L906.4,670.1 L906.4,664.9 L907.6,664.1 L908.6,660.4 L908.8,658.7 L908.9,656.3 L910.6,652.2 L910.3,649.8 L911.6,647.5 L912.4,644.5 L914.0,641.9 L915.2,640.5 L916.5,638.8 L916.1,636.3 L917.6,632.3 L917.3,631.6 L918.3,628.0 L918.6,626.5 L920.2,622.8 L920.2,622.2 L921.7,618.9 L922.3,616.9 L922.3,615.2 L922.5,609.9 L922.8,608.8 L923.1,605.2 L924.3,602.0 L924.5,600.4 L924.1,598.8 L924.0,597.1 L924.2,594.6 L925.0,589.6 L925.5,586.2 L925.8,583.8 L925.7,581.0 L925.6,578.9 L925.9,577.1 L926.4,574.3 L926.3,570.7 L926.9,569.5 L927.4,567.5 L927.3,563.3 L928.0,559.7 L929.5,558.4 L930.2,556.8 L931.2,553.1 L931.9,548.8 L933.1,548.3 L933.9,546.7 L934.3,542.9 L935.0,540.4 L935.9,538.5 L936.6,536.7 L937.8,533.1 L938.2,531.2 L939.9,528.4 L940.6,525.9 L942.2,522.5 L942.9,519.0 L943.5,519.4 L944.8,515.6 L945.6,514.7 L946.1,511.2 L947.1,508.3 L948.0,505.5 L948.7,501.9 L949.0,501.5 L950.3,496.8 L952.1,496.0 L952.9,493.8 L953.2,489.1 L954.3,489.4 L954.8,484.0 L955.2,484.0 L956.1,479.0 L955.9,477.6 L956.3,475.3 L956.4,472.0 L956.7,468.4 L957.0,466.4 L956.8,464.7 L958.1,459.9 L957.9,458.4 L957.9,455.6 L959.7,453.5 L962.4,451.7 L963.9,451.7 L965.1,448.5 L965.5,445.8 L965.5,444.0 L966.6,440.1 L967.0,438.2 L968.1,434.4 L968.8,432.7 L970.2,435.7 L971.8,437.6 L972.7,439.9 L973.9,444.0 L974.5,447.5 L974.8,450.4 L975.1,451.8 L975.8,453.8 L975.8,458.0 L977.2,462.1 L976.5,462.2 L977.7,465.0 L977.6,469.9 L978.3,470.5 L978.0,474.3 L978.5,476.0 L978.9,479.4 L979.1,483.3 L979.4,485.1 L979.7,490.0 L980.2,491.7 L980.5,493.7 L980.7,496.1 L981.5,500.2 L981.1,501.6 L981.3,506.5 L982.4,508.8 L982.6,509.5 L982.0,512.2 L982.6,515.3 L983.0,519.0 L983.5,522.4 L983.3,522.9 L983.6,527.3 L984.6,531.1 L984.4,531.5 L985.0,534.4 L984.9,537.2 L985.7,540.3 L986.3,542.9 L987.0,547.2 L987.8,549.1 L987.8,551.0 L988.7,553.2 L989.1,557.4 L989.0,559.7 L990.4,560.8 L990.7,566.2 L991.7,569.1 L991.7,571.0 L993.6,569.1 L995.8,567.5 L997.5,565.6 L999.5,568.1 L1001.3,573.0 L1002.7,573.8 L1003.8,576.9 L1005.8,577.7 L1006.1,580.3 L1006.5,582.8 L1006.2,586.0 L1006.9,589.5 L1007.0,593.3 L1006.3,595.3 L1007.0,596.4 L1007.4,601.7 L1007.2,601.9 L1007.5,607.0 L1007.9,609.0 L1008.0,611.7 L1007.9,613.9 L1008.8,614.8 L1008.2,617.1 L1009.2,621.5 L1008.6,622.8 L1008.9,627.4 L1009.1,628.6 L1010.0,630.0 L1009.4,634.4 L1009.9,635.6 L1011.3,639.2 L1011.2,641.3 L1012.1,644.6 L1012.7,648.7 L1013.4,651.9 L1014.4,653.0 L1014.6,656.2 L1015.1,658.6 L1015.5,661.0 L1016.8,663.3 L1018.3,664.2 L1020.5,666.2 L1022.9,665.9 L1025.7,668.0 L1025.6,666.3 L1026.2,663.0 L1027.1,659.4 L1027.7,658.3 L1027.5,656.1 L1028.5,651.6 L1028.3,647.7 L1029.1,645.9 L1028.8,642.4 L1029.8,640.2 L1030.3,638.2 L1030.4,635.6 L1030.2,632.7 L1030.0,629.4 L1030.9,625.5 L1030.6,624.8 L1031.0,620.4 L1031.9,618.0 L1031.6,615.1 L1032.6,613.1 L1032.5,609.7 L1032.6,606.1 L1032.6,606.2 L1033.4,601.6 L1033.6,599.4 L1034.7,602.6 L1035.3,604.7 L1036.5,608.1 L1037.7,611.2 L1038.0,613.5 L1039.4,617.7 L1039.9,618.5 L1040.6,621.7 L1041.3,623.5 L1042.3,627.9 L1043.2,631.8 L1043.6,633.5 L1044.5,635.1 L1045.4,638.9 L1045.9,640.3 L1046.7,642.6 L1047.0,647.7 L1047.9,649.9 L1048.1,651.6 L1048.8,650.0 L1049.5,645.3 L1050.7,644.7 L1051.3,641.0 L1051.4,637.4 L1051.5,633.9 L1051.7,634.1 L1052.7,630.9 L1053.6,629.4 L1053.2,624.1 L1053.7,624.3 L1054.6,619.6 L1054.9,618.1 L1055.8,615.4 L1056.6,612.6 L1057.4,609.6 L1059.4,612.7 L1061.2,612.8 L1062.7,613.1 L1065.0,617.1 L1066.2,618.2 L1067.0,621.7 L1068.0,623.1 L1068.8,625.5 L1069.4,627.3 L1070.4,629.5 L1071.5,633.2 L1073.5,636.0 L1073.9,637.0 L1075.1,642.5 L1076.7,643.1 L1077.0,646.5 L1080.0,644.2 L1081.6,642.9 L1082.3,641.0 L1084.0,638.9 L1086.6,638.2 L1088.8,636.8 L1090.7,636.6 L1092.4,641.4 L1093.8,642.0 L1095.6,644.8 L1097.6,648.5 L1098.8,649.9 L1100.5,651.3 L1100.7,655.3 L1101.7,658.4 L1103.3,659.8 L1105.0,660.6 L1107.7,663.0 L1108.8,662.6 L1108.7,664.9 L1109.6,668.4 L1109.7,672.0 L1110.1,674.3 L1110.2,677.7 L1110.9,679.7 L1111.2,682.2 L1111.2,685.1 L1112.1,688.7 L1112.0,690.5 L1111.8,693.7 L1112.2,695.9 L1112.4,698.2 L1112.4,701.0 L1112.7,703.0 L1112.9,706.4 L1114.0,709.6 L1113.6,712.1 L1113.9,715.3 L1114.5,716.0 L1114.6,719.5 L1115.4,722.5 L1115.0,723.5 L1115.8,726.4 L1115.7,729.7 L1116.9,731.5 L1117.2,735.9 L1118.0,737.9 L1117.7,738.7 L1118.6,742.5 L1119.1,745.3 L1120.1,747.1 L1120.8,748.5 L1122.0,751.3 L1123.5,755.8 L1123.7,758.1 L1127.0,755.5 L1127.8,758.8 L1128.8,762.5 L1128.6,762.7 L1129.2,767.8 L1129.8,770.4 L1130.7,771.7 L1131.5,773.2 L1132.7,778.0 L1132.9,779.3 L1133.7,782.2 L1134.9,784.9 L1136.1,788.1 L1136.4,789.6 L1136.7,793.8 L1137.6,796.1 L1138.4,794.9 L1139.3,789.5 L1140.5,788.3 L1140.6,785.9 L1141.3,784.0 L1142.3,780.6 L1143.5,778.3 L1145.0,775.1 L1146.0,777.4 L1147.7,778.2 L1150.1,780.9 L1151.9,779.1 L1153.5,777.8 L1154.6,779.8 L1155.6,783.8 L1156.8,785.3 L1157.4,787.9 L1158.2,790.2 L1159.7,794.1 L1160.8,796.5 L1162.0,797.3 L1162.4,801.9 L1164.0,798.3 L1165.1,795.5 L1165.8,793.6 L1167.0,791.5 L1167.3,787.6 L1169.8,785.3 L1171.7,783.5 L1173.8,781.2 L1176.2,782.2 L1178.3,784.3 L1178.6,780.4 L1179.4,778.7 L1179.4,775.3 L1180.9,775.3 L1180.7,771.5 L1180.8,769.6 L1181.9,766.8 L1182.3,765.6 L1182.5,761.7 L1183.9,760.6 L1185.5,756.9 L1186.2,754.6 L1188.4,757.4 L1189.2,759.4 L1190.4,755.9 L1190.7,753.4 L1191.0,750.9 L1191.3,750.5 L1191.9,751.7 L1192.2,755.2 L1192.0,757.3 L1192.5,760.6 L1193.1,763.3 L1193.8,765.1 L1195.0,767.5 L1195.5,770.5 L1196.1,772.3 L1197.4,775.9 L1198.3,773.3 L1200.1,770.6 L1201.3,768.9 L1202.5,765.4 L1204.0,767.9 L1205.5,770.0 L1207.1,770.7 L1208.8,770.1 L1209.1,766.6 L1210.5,763.3 L1213.2,763.7 L1214.2,764.9 L1214.3,770.3 L1214.4,771.1 L1214.5,775.1 L1215.3,775.2 L1215.3,779.0 L1215.0,781.7 L1216.1,783.7 L1218.5,785.4 L1219.3,788.8 L1220.5,789.4 L1221.4,793.2 L1222.7,795.7 L1223.3,797.3 L1224.8,800.4 L1226.0,803.7 L1226.5,799.4 L1227.8,796.9 L1228.8,795.2 L1229.0,792.7 L1229.3,791.8 L1230.6,787.4 L1230.7,785.3 L1231.7,781.1 L1232.4,779.0 L1233.7,781.1 L1234.3,782.6 L1235.1,786.0 L1237.0,783.3 L1238.3,779.9 L1239.6,781.0 L1240.7,785.5 L1242.0,787.1 L1245.4,784.2 L1245.7,788.5 L1246.2,788.6 L1246.5,791.5 L1246.1,793.8 L1247.0,796.1 L1247.1,800.3 L1248.1,800.5 L1249.0,805.4 L1249.2,804.9 L1250.5,809.8 L1251.3,812.2 L1253.2,813.2 L1254.7,813.0 L1256.3,816.1 L1257.2,818.4 L1259.1,819.9 L1260.7,823.4 L1262.0,825.0 L1262.0,826.7 L1262.2,831.1 L1263.0,833.2 L1263.5,836.8 L1263.4,839.1 L1263.9,841.9 L1264.2,845.3 L1264.5,846.5 L1266.1,849.6 L1266.7,853.2 L1271.0,852.5 L1271.7,855.0 L1272.0,857.3 L1272.3,860.2 L1273.0,865.0 L1272.6,867.6 L1275.8,868.4 L1277.8,869.4 L1279.6,871.6 L1281.8,873.4 L1282.6,876.6 L1284.0,877.7 L1286.1,880.3 L1288.2,881.2 L1289.4,882.2 L1290.4,886.4 L1291.4,886.9 L1291.5,892.2 L1292.6,893.9 L1293.7,889.7 L1295.6,887.8 L1296.0,885.5 L1296.7,884.0 L1296.2,882.2 L1297.3,878.9 L1297.2,875.1 L1297.6,874.9 L1297.6,871.2 L1299.6,870.9 L1300.5,867.5 L1301.6,868.6 L1303.0,873.7 L1303.5,874.1 L1303.9,871.1 L1304.3,868.5 L1305.6,867.0 L1305.8,865.3 L1306.6,861.0 L1306.3,858.4 L1308.4,860.5 L1309.5,864.3 L1310.1,865.8 L1310.6,869.5 L1310.1,872.1 L1310.6,873.7 L1311.5,878.0 L1311.3,880.9 L1313.5,880.2 L1315.4,876.9 L1318.4,878.3 L1321.0,880.6 L1322.4,881.3 L1323.6,882.7 L1326.1,883.5 L1327.2,887.6 L1329.1,883.4 L1330.5,882.1 L1332.2,881.5 L1335.9,881.3 L1338.5,884.0 L1339.9,886.3 L1342.1,888.6 L1344.3,887.3 L1346.6,889.3 L1347.2,889.6 L1348.4,892.1 L1349.6,897.5 L1351.1,898.7 L1352.0,899.3 L1353.3,902.3 L1354.3,906.5 L1355.1,907.6 L1356.5,904.3 L1358.2,902.7 L1358.5,899.9 L1360.1,897.8 L1360.7,895.1 L1361.7,894.7 L1362.4,891.2 L1362.1,889.5 L1363.0,886.1 L1366.1,883.6 L1368.7,883.3 L1372.4,883.4 L1375.4,885.6 L1375.6,886.0 L1376.0,889.4 L1376.0,893.3 L1376.8,894.7 L1377.6,897.5 L1377.1,903.0 L1378.3,905.2 L1379.0,905.9 L1379.3,910.1 L1380.6,913.9 L1381.8,916.7 L1382.2,919.4 L1382.4,922.3 L1383.7,923.2 L1384.4,926.5 L1385.5,930.1 L1386.2,932.8 L1386.9,935.2 L1389.1,934.9 L1391.1,932.1 L1392.2,933.6 L1393.3,937.7 L1393.9,938.5 L1394.7,942.5 L1396.2,943.0 L1398.2,944.6 L1399.9,947.2 L1402.2,947.5 L1404.6,947.5 L1408.0,946.7 L1409.1,949.2 L1411.4,948.7 L1413.0,951.9 L1413.4,948.9 L1414.0,948.0 L1414.5,943.3 L1415.9,940.7 L1417.5,941.1 L1419.6,940.0 L1422.3,941.1 L1424.4,944.4 L1426.7,946.1 L1428.1,943.4 L1428.8,940.4 L1429.4,938.4 L1431.2,936.5 L1433.7,938.2 L1435.2,941.6 L1436.7,942.3 L1438.0,946.0 L1440.0,947.5 L1441.3,949.9 L1442.2,951.8 L1442.6,955.7 L1443.4,956.2 L1446.1,955.3 L1448.3,957.6 L1450.7,957.5 L1453.7,956.3 L1455.9,957.9 L1458.6,958.1 L1459.4,955.8 L1460.2,952.8 L1461.8,950.1 L1464.3,948.1 L1466.2,949.0 L1467.8,945.6 L1468.4,943.2 L1469.2,940.5 L1471.7,940.4 L1473.2,936.5 L1475.6,936.0 L1476.8,934.1 L1478.7,931.8 L1480.5,931.3 L1480.5,927.1 L1481.4,925.8 L1482.1,923.4 L1486.5,923.6 L1487.7,924.3 L1490.0,928.2 L1492.6,925.0 L1495.0,924.0 L1496.0,922.4 L1495.9,920.8 L1497.0,916.1 L1497.3,915.9 L1497.9,912.9 L1499.1,911.5 L1498.9,909.0 L1499.8,903.7 L1499.7,902.3 L1500.6,899.7 L1500.7,898.1 L1501.0,894.4 L1502.0,890.9 L1501.3,891.2 L1502.6,887.4 L1502.9,884.8 L1502.9,880.8 L1502.5,880.5 L1503.8,875.9 L1503.7,873.4 L1504.1,873.0 L1504.0,869.6 L1504.0,867.6 L1504.7,863.6 L1504.5,862.0 L1505.1,857.5 L1506.0,855.2 L1506.0,853.6 L1506.4,851.0 L1508.1,849.6 L1509.2,844.4 L1511.1,847.6 L1512.1,848.3 L1512.5,844.2 L1513.8,840.7 L1515.0,839.7 L1517.3,841.4 L1520.3,844.2 L1521.4,840.5 L1522.9,838.0 L1524.8,836.5 L1526.1,834.9 L1526.8,831.4 L1527.0,831.0 L1528.2,829.0 L1528.6,827.1 L1529.0,823.3 L1529.5,821.5 L1530.8,819.2 L1531.5,815.8 L1532.2,811.6 L1533.7,810.3 L1534.9,808.8 L1537.3,810.2 L1538.6,811.4 L1541.2,814.3 L1543.1,815.6 L1544.3,813.5 L1546.1,811.6 L1546.9,816.4 L1548.2,818.8 L1548.9,820.8 L1550.3,824.1 L1551.2,826.9 L1553.0,827.7 L1554.6,824.4 L1555.1,821.8 L1556.7,818.8 L1558.2,818.7 L1558.9,816.1 L1559.9,812.5 L1561.3,815.1 L1561.6,816.8 L1562.9,819.9 L1564.8,821.2 L1567.5,821.7 L1570.4,820.7 L1573.4,820.5 L1575.5,824.9 L1576.9,826.6 L1577.5,830.0 L1577.4,831.5 L1578.0,836.7 L1579.2,837.0 L1579.6,840.4 L1579.8,844.6 L1581.3,847.1 L1581.5,849.9 L1581.6,851.8 L1582.8,853.3 L1583.2,857.0 L1584.5,859.5 L1585.8,861.1 L1585.7,864.2 L1586.6,867.4 L1585.9,869.8 L1586.8,869.8 L1586.5,872.6 L1586.8,877.6 L1587.4,878.6 L1588.6,882.7 L1588.7,884.7 L1589.9,884.9 L1590.1,887.6 L1590.5,891.4 L1592.0,889.5 L1592.7,885.2 L1593.5,882.2 L1595.2,881.5 L1597.7,878.7 L1598.9,875.7 L1599.2,873.2 L1600.3,872.3 L1601.3,875.4 L1602.6,875.5 L1603.5,878.8 L1604.4,879.7 L1606.4,882.6 L1606.8,884.4 L1607.6,888.8 L1609.0,889.6 L1609.6,894.1 L1610.2,894.2 L1611.4,891.6 L1611.9,890.2 L1613.1,888.8 L1615.4,887.5 L1617.0,885.5 L1618.2,882.3 L1620.4,885.0 L1623.0,885.7 L1625.1,885.3 L1627.4,885.0 L1628.0,881.6 L1630.5,878.1 L1632.4,878.4 L1634.5,875.5 L1636.4,876.6 L1638.1,880.3 L1638.8,878.0 L1640.7,875.5 L1641.0,870.7 L1642.3,870.0 L1644.0,867.4 L1645.3,865.9 L1646.3,861.7 L1648.1,858.4 L1648.9,857.8 L1651.4,855.9 L1654.1,854.8" fill="none" stroke="#0a14ff" stroke-width="3.6" stroke-linejoin="round" stroke-linecap="round"/>
<path d="M267.2,549.4 L267.1,550.0 L268.5,555.3 L268.7,557.4 L269.2,560.4 L269.0,563.3 L269.5,565.8 L270.2,569.4 L271.1,568.4 L272.0,564.8 L273.1,562.1 L274.3,565.2 L276.1,567.3 L276.8,570.0 L276.5,572.0 L276.9,575.1 L278.1,578.6 L277.4,581.9 L278.4,585.5 L278.7,587.8 L278.9,590.8 L279.1,592.5 L278.6,597.0 L279.4,599.0 L279.4,600.8 L280.0,603.6 L280.1,606.3 L280.3,608.6 L280.0,613.0 L280.7,614.7 L280.4,617.9 L280.4,619.0 L280.5,623.0 L281.1,626.7 L281.8,629.5 L282.8,632.4 L283.2,633.7 L283.8,636.8 L285.7,636.4 L288.6,637.5 L288.2,640.7 L289.4,644.1 L289.2,647.2 L289.4,649.5 L290.1,652.0 L291.0,653.8 L291.2,655.9 L291.3,661.2 L292.4,661.9 L292.6,665.5 L292.7,667.0 L293.4,670.3 L294.0,673.4 L294.5,675.3 L294.5,678.0 L295.0,682.8 L296.4,678.7 L296.7,677.0 L297.1,681.7 L297.7,681.7 L298.4,686.3 L300.5,682.4 L301.2,684.6 L302.2,690.0 L302.8,692.8 L303.6,695.9 L303.9,697.3 L304.9,700.3 L305.2,701.6 L305.0,706.9 L305.6,708.8 L305.5,711.4 L305.9,715.7 L306.3,717.4 L306.6,718.9 L306.4,721.3 L306.9,723.4 L307.8,726.2 L308.3,730.0 L308.8,734.2 L308.4,734.8 L308.8,737.6 L309.2,741.6 L308.8,744.7 L309.4,746.6 L309.3,748.7 L309.5,751.9 L310.1,755.5 L310.4,756.1 L310.8,759.1 L311.5,762.6 L312.1,764.5 L312.8,766.8 L313.0,771.8 L313.1,772.7 L313.2,775.6 L314.0,778.0 L313.9,780.1 L314.7,784.9 L315.7,786.9 L315.4,790.0 L315.9,794.0 L316.6,794.4 L317.3,797.0 L318.6,801.9 L321.4,798.3 L322.5,802.0 L323.6,804.3 L324.3,807.4 L326.9,806.3 L328.6,804.4 L328.9,806.8 L329.2,810.0 L329.5,813.8 L329.6,814.3 L330.6,817.3 L332.9,817.6 L334.1,816.5 L336.7,816.2 L338.4,815.6 L338.9,817.1 L339.3,820.9 L340.1,822.4 L341.1,826.1 L341.6,827.9 L341.5,829.1 L342.1,832.3 L343.0,834.8 L343.4,839.0 L343.4,841.3 L344.6,842.7 L344.9,844.5 L345.2,846.9 L346.6,851.7 L346.6,848.9 L347.5,845.3 L348.7,844.0 L349.3,840.8 L350.6,841.7 L352.2,846.4 L353.3,846.1 L354.6,845.3 L356.5,843.6 L358.1,840.4 L359.5,838.8 L359.8,834.7 L360.7,831.6 L362.4,829.2 L364.2,826.0 L366.1,825.0 L367.6,823.3 L368.1,820.8 L368.9,819.1 L370.2,815.6 L371.8,813.5 L372.7,809.3 L374.0,807.4 L375.2,806.1 L377.5,802.7 L380.3,803.6 L382.9,804.7 L385.3,804.3 L386.8,803.3 L388.7,801.2 L390.2,796.5 L391.6,798.6 L394.0,798.7 L395.8,799.8 L397.0,802.5 L397.3,800.1 L398.2,797.5 L399.2,793.7 L400.8,793.4 L404.1,795.3 L406.5,794.8 L408.7,793.3 L410.7,792.0 L412.3,794.8 L415.0,796.5 L416.1,798.5 L416.7,802.7 L418.1,804.5 L418.5,806.9 L419.3,802.7 L419.9,801.1 L420.8,797.2 L421.3,797.8 L421.9,793.9 L423.0,791.2 L424.2,788.7 L425.4,787.3 L426.4,786.2 L428.0,787.9 L429.9,788.6 L430.6,786.2 L431.2,784.1 L432.6,780.7 L434.0,778.0 L434.8,776.4 L435.3,772.4 L436.5,770.4 L439.1,767.3 L440.8,764.8 L441.2,767.6 L441.6,769.9 L442.5,772.8 L443.4,775.3 L445.0,773.7 L445.7,769.4 L446.0,773.5 L446.6,773.5 L447.7,776.8 L448.7,774.7 L449.9,773.7 L451.6,771.1 L452.4,767.7 L452.9,765.0 L453.0,764.4 L454.0,761.2 L454.3,758.9 L454.8,756.3 L455.6,753.9 L455.8,749.8 L456.1,748.5 L456.4,745.0 L457.2,744.3 L458.3,740.2 L458.8,737.1 L458.6,733.9 L459.6,732.0 L460.9,731.1 L461.0,728.0 L461.5,724.6 L462.4,722.5 L463.1,718.3 L463.2,715.1 L463.5,714.8 L464.1,709.4 L464.8,707.0 L465.3,704.5 L468.2,703.5 L469.5,702.1 L471.2,699.1 L471.7,695.9 L473.3,695.7 L475.4,695.5 L478.6,694.1 L480.1,696.0 L481.2,699.2 L481.8,698.1 L482.8,694.0 L483.7,691.0 L484.0,689.4 L485.2,686.7 L485.5,685.1 L485.7,681.3 L485.8,678.9 L487.3,674.9 L487.7,672.4 L488.2,671.5 L488.1,667.4 L488.1,666.7 L488.9,661.9 L489.1,659.5 L489.5,658.6 L490.5,657.0 L491.3,651.5 L491.2,649.9 L493.3,649.1 L495.9,647.4 L500.0,647.8 L500.6,652.1 L501.8,654.3 L502.1,655.6 L502.2,657.9 L502.8,660.5 L503.3,663.1 L504.2,667.0 L506.6,670.4 L508.1,671.6 L509.7,673.6 L512.3,672.5 L512.2,671.0 L512.8,667.7 L513.4,665.3 L514.3,662.6 L514.5,660.9 L514.5,662.8 L515.5,666.3 L515.4,667.2 L515.6,671.3 L515.7,672.3 L515.5,669.6 L516.3,668.1 L516.6,665.6 L516.6,663.1 L517.1,658.4 L517.5,658.2 L516.8,654.8 L517.1,650.8 L517.8,649.5 L518.3,645.8 L520.5,648.4 L521.9,647.3 L523.6,643.8 L524.2,642.8 L525.8,640.8 L526.9,636.7 L529.9,638.9 L530.3,641.4 L531.3,643.9 L532.0,646.9 L533.2,647.5 L533.9,650.2 L534.0,654.3 L535.0,656.4 L535.1,659.0 L535.4,660.4 L535.8,663.1 L536.4,664.7 L536.9,667.7 L537.3,671.3 L538.2,672.8 L538.4,677.7 L539.5,679.7 L540.0,682.9 L540.1,683.9 L540.8,688.0 L542.1,687.7 L542.0,690.7 L542.7,693.7 L543.7,697.4 L544.8,699.1 L545.6,702.5 L547.0,704.6 L549.1,705.7 L549.9,708.9 L552.2,711.9 L553.9,713.6 L556.3,715.4 L557.7,715.1 L560.3,718.5 L562.1,717.4 L563.9,720.4 L565.5,723.0 L566.8,724.2 L568.9,726.8 L569.7,729.3 L570.3,732.9 L571.1,737.5 L571.8,738.7 L572.6,741.0 L575.1,742.6 L577.0,742.7 L578.2,742.4 L580.6,740.9 L582.4,738.6 L585.2,740.1 L587.7,742.1 L588.9,744.7 L589.1,745.6 L590.2,748.9 L591.5,750.8 L593.7,753.6 L595.9,755.7 L596.6,752.2 L597.7,750.7 L597.4,753.9 L598.2,756.2 L598.7,759.3 L598.3,761.6 L598.8,766.1 L599.2,766.1 L599.6,769.6 L599.7,773.1 L599.6,776.1 L601.0,777.8 L603.8,777.0 L605.1,777.7 L606.4,782.9 L607.2,783.9 L609.0,785.7 L610.1,787.7 L611.2,790.7 L613.6,789.2 L615.7,792.1 L616.2,789.3 L616.9,787.5 L618.7,782.9 L619.4,782.0 L621.5,781.6 L624.1,779.5 L625.0,780.4 L626.3,782.3 L627.1,780.9 L627.9,779.0 L629.4,776.2 L630.8,773.4 L631.3,770.6 L634.2,772.2 L637.3,774.2 L639.2,774.7 L641.8,775.8 L643.3,777.9 L645.3,777.2 L647.1,778.6 L648.2,780.5 L649.0,786.4 L649.3,787.8 L650.4,790.2 L651.0,793.0 L652.5,789.6 L653.5,789.3 L653.8,785.5 L656.0,786.1 L657.2,789.1 L659.0,786.1 L660.7,782.8 L662.3,781.0 L663.9,778.5 L665.5,776.1 L667.4,773.2 L669.0,774.6 L671.3,774.3 L672.2,777.3 L672.6,780.2 L674.2,781.3 L675.3,783.2 L675.9,787.5 L677.3,789.1 L677.8,792.1 L678.9,794.7 L679.5,790.3 L679.5,789.1 L680.5,785.9 L680.2,784.1 L680.7,781.7 L681.1,777.3 L681.7,775.8 L681.8,772.6 L681.7,769.2 L682.4,766.7 L683.5,765.8 L684.7,762.2 L685.6,758.4 L685.6,756.4 L686.9,754.6 L689.8,754.8 L692.6,751.7 L694.2,753.3 L695.0,757.8 L696.8,759.1 L699.0,763.3 L700.3,765.9 L701.6,767.5 L702.9,770.2 L705.2,771.7 L706.5,775.0 L707.6,777.2 L709.5,775.3 L711.5,772.5 L712.5,772.3 L714.1,767.9 L714.4,766.9 L715.4,763.9 L716.8,762.2 L717.5,758.4 L719.3,756.1 L720.6,754.0 L722.8,751.9 L724.0,756.1 L725.0,757.3 L725.3,758.0 L726.3,761.8 L727.9,762.4 L728.3,765.1 L729.8,768.2 L730.5,764.1 L730.7,762.3 L730.7,760.1 L731.4,758.3 L733.3,761.1 L734.8,762.6 L735.3,764.5 L736.1,763.0 L737.6,761.7 L738.4,759.0 L741.0,755.6 L742.4,754.8 L744.6,753.7 L746.5,753.0 L749.0,750.3 L751.2,751.0 L754.1,751.6 L756.6,754.7 L757.8,757.2 L758.9,757.8 L759.0,759.6 L760.6,762.6 L761.3,766.2 L761.7,770.5 L761.4,772.1 L762.2,776.0 L762.4,776.3 L762.2,778.5 L763.4,783.3 L763.8,786.8 L764.2,787.2 L764.5,792.1 L764.9,793.6 L766.0,794.8 L766.2,800.1 L767.6,801.7 L769.2,803.6 L770.2,806.4 L771.2,804.6 L770.8,801.7 L771.9,800.3 L772.1,796.7 L773.8,795.1 L776.2,794.6 L777.4,796.9 L778.1,799.8 L779.4,797.8 L779.9,793.3 L781.3,792.1 L782.4,791.7 L783.2,794.9 L783.1,793.4 L783.7,789.3 L783.3,788.7 L784.3,785.9 L784.4,781.2 L784.6,780.1 L784.4,777.2 L784.5,774.5 L784.9,771.8 L785.0,768.6 L785.3,766.1 L785.9,764.0 L786.0,760.3 L785.8,757.8 L786.9,754.4 L786.9,754.2 L786.4,749.1 L786.8,746.1 L786.7,744.4 L787.7,741.6 L787.4,740.2 L788.3,734.8 L788.1,733.4 L788.4,729.8 L788.9,727.4 L789.7,724.6 L790.0,723.7 L790.6,719.7 L791.5,718.3 L791.3,716.1 L792.0,712.4 L792.7,709.5 L793.1,706.9 L793.3,702.7 L794.9,702.9 L794.5,698.9 L795.6,697.5 L796.2,693.8 L796.8,690.3 L798.4,689.9 L799.0,688.0 L800.4,684.9 L803.5,684.0 L805.8,683.3 L807.6,683.7 L810.3,681.4 L811.8,680.3 L812.8,678.9 L815.1,676.2 L815.9,674.1 L819.2,677.0 L820.8,674.3 L821.7,672.1 L823.0,668.6 L824.3,664.2 L825.7,661.5 L826.9,659.9 L827.5,658.3 L828.7,655.4 L829.9,651.6 L832.1,652.1 L833.6,649.2 L835.9,647.1 L838.4,647.5 L841.2,644.3 L841.4,645.2 L841.9,649.0 L843.0,651.7 L844.1,648.3 L845.1,646.3 L846.2,643.4 L847.1,641.9 L848.5,641.5 L849.8,637.1 L850.4,636.6 L850.6,632.9 L851.5,630.5 L851.5,626.3 L851.7,627.5 L853.3,630.5 L854.0,634.7 L855.0,633.0 L856.9,627.9 L858.8,626.2 L860.2,631.5 L861.0,631.8 L861.9,636.4 L862.5,638.4 L864.2,642.6 L864.8,644.4 L864.7,645.1 L864.9,648.3 L865.5,650.8 L865.2,654.9 L865.2,658.2 L866.0,660.9 L865.9,662.5 L866.8,665.2 L866.1,666.3 L866.6,670.3 L866.9,671.2 L866.8,674.2 L866.8,677.2 L867.5,681.6 L867.4,683.8 L868.3,686.9 L867.5,690.3 L867.7,690.8 L868.5,694.1 L868.4,697.2 L868.8,700.5 L869.1,704.0 L869.1,705.7 L870.2,708.2 L870.6,710.1 L870.8,712.6 L871.2,716.9 L871.5,718.7 L872.3,721.9 L872.2,724.9 L872.8,727.4 L873.5,729.6 L873.6,733.5 L874.7,734.8 L874.4,738.4 L875.4,741.4 L875.8,746.3 L876.3,746.8 L875.9,749.1 L876.9,752.2 L877.4,756.6 L877.8,760.0 L879.3,758.9 L881.9,757.9 L882.8,755.5 L885.0,752.5 L886.4,749.3 L889.4,749.6 L891.4,748.7 L891.8,746.2 L892.5,743.3 L893.3,738.4 L894.9,737.6 L894.9,734.5 L895.4,732.1 L895.6,730.6 L895.0,725.8 L895.5,724.9 L896.4,721.7 L895.9,717.1 L896.7,715.3 L897.3,713.7 L897.2,709.0 L897.2,708.1 L897.3,704.4 L897.9,702.4 L898.4,698.4 L898.7,695.2 L898.9,692.8 L899.7,691.0 L900.4,688.3 L900.4,686.0 L901.4,682.8 L901.6,678.9 L901.9,677.2 L902.4,673.4 L903.6,672.9 L904.0,671.1 L904.7,668.2 L905.1,663.3 L905.6,662.5 L906.2,658.5 L906.4,656.2 L907.1,654.6 L907.6,650.1 L907.6,647.2 L908.7,646.6 L908.9,642.5 L908.8,639.7 L908.5,637.5 L909.1,635.2 L908.8,633.9 L909.1,629.7 L910.1,626.2 L911.9,625.2 L912.4,620.6 L913.4,618.3 L914.9,616.7 L915.3,611.3 L916.0,609.8 L916.6,607.2 L916.6,603.3 L916.7,603.1 L917.6,598.4 L918.0,595.8 L918.1,593.6 L920.2,590.8 L921.4,588.6 L921.5,586.0 L922.0,584.2 L921.7,580.3 L922.6,576.3 L923.0,575.7 L923.4,570.0 L923.4,568.0 L923.0,564.8 L923.7,564.0 L924.1,560.8 L923.9,558.0 L924.3,554.4 L924.1,551.5 L924.4,550.6 L925.0,547.6 L925.3,544.1 L924.6,540.9 L925.5,539.4 L926.0,536.8 L925.7,533.0 L926.5,530.9 L926.6,527.1 L926.3,526.6 L926.4,520.8 L926.7,520.1 L927.0,517.8 L928.6,515.7 L930.2,512.8 L930.7,513.4 L931.3,516.6 L930.8,520.9 L931.4,522.5 L931.3,526.1 L931.9,528.0 L932.1,525.4 L932.1,522.2 L933.0,519.4 L932.2,517.1 L933.1,514.0 L932.6,512.3 L933.2,508.8 L933.5,507.4 L934.6,505.0 L934.7,499.5 L935.4,498.5 L935.4,497.0 L935.9,493.7 L936.5,491.5 L937.6,486.3 L937.9,486.7 L938.1,483.4 L938.9,479.1 L939.0,477.8 L939.7,474.4 L941.2,471.7 L941.0,468.5 L942.7,466.7 L943.3,465.4 L944.4,463.1 L944.2,460.0 L945.5,455.7 L946.1,453.0 L947.5,451.0 L948.8,454.9 L950.1,455.2 L950.9,451.6 L951.7,449.5 L952.4,449.2 L953.6,446.5 L954.0,444.3 L955.1,439.8 L955.0,437.9 L956.3,435.7 L956.3,433.9 L956.9,429.1 L957.1,426.1 L958.0,425.3 L957.8,419.8 L959.2,417.4 L959.3,415.4 L959.7,417.8 L960.8,422.5 L961.7,419.2 L962.5,416.3 L962.5,415.6 L963.4,411.5 L964.1,409.7 L964.4,408.2 L965.2,406.4 L965.7,401.1 L966.0,400.3 L967.1,398.5 L968.2,394.9 L969.8,391.1 L971.7,395.3 L972.6,398.1 L973.7,401.3 L974.0,403.7 L975.0,406.9 L974.9,408.7 L975.8,411.2 L976.1,414.0 L976.3,415.9 L976.6,418.5 L976.8,420.6 L977.5,425.8 L977.8,427.8 L977.1,429.7 L977.8,433.6 L978.2,435.8 L978.7,439.5 L978.6,440.7 L978.9,444.3 L978.9,446.7 L978.6,450.0 L978.9,452.5 L979.7,453.2 L979.5,456.6 L979.6,458.5 L979.7,461.3 L980.1,465.4 L980.6,467.1 L981.3,470.8 L980.9,473.3 L981.6,474.4 L982.0,477.9 L982.3,480.1 L982.1,483.3 L982.9,485.4 L982.9,489.1 L982.6,492.8 L983.3,494.4 L984.1,496.0 L984.0,498.6 L984.0,501.8 L984.1,504.0 L985.1,507.2 L985.8,511.4 L986.1,511.8 L985.6,514.2 L986.6,518.0 L986.3,521.2 L987.3,523.6 L988.0,526.6 L987.8,530.4 L988.8,532.2 L989.1,536.0 L989.6,539.3 L990.1,540.2 L990.2,543.6 L990.7,546.3 L990.8,549.1 L991.1,552.3 L991.9,554.8 L991.4,556.7 L991.8,560.6 L992.0,561.0 L992.7,564.4 L993.9,563.6 L996.0,560.4 L998.7,561.7 L1000.1,559.1 L1000.3,557.3 L1001.5,554.9 L1001.8,559.0 L1002.4,559.6 L1003.5,562.4 L1003.7,567.1 L1005.4,568.2 L1005.5,571.9 L1006.4,574.1 L1006.2,575.8 L1006.1,579.2 L1006.4,581.8 L1005.7,584.9 L1006.1,588.5 L1006.4,589.7 L1006.8,593.2 L1006.5,594.4 L1006.7,598.6 L1007.2,600.3 L1007.3,605.4 L1006.9,606.8 L1007.8,609.4 L1007.6,611.6 L1007.7,614.8 L1007.9,618.2 L1008.7,621.9 L1008.0,622.7 L1008.9,625.2 L1008.8,628.5 L1010.0,630.0 L1010.6,633.1 L1010.8,636.3 L1011.3,638.9 L1011.5,641.3 L1011.8,643.6 L1013.4,647.8 L1013.9,648.8 L1013.7,652.4 L1014.5,655.0 L1015.0,657.2 L1014.9,661.1 L1015.7,665.1 L1015.7,667.3 L1016.5,669.8 L1016.3,672.7 L1016.9,675.9 L1017.8,675.7 L1017.9,679.3 L1017.9,681.3 L1019.2,684.7 L1020.0,687.7 L1020.8,689.4 L1022.2,687.2 L1024.5,684.8 L1025.9,687.3 L1027.8,689.2 L1027.6,687.3 L1028.3,683.7 L1028.2,682.3 L1029.2,678.3 L1029.6,675.2 L1029.3,671.8 L1029.4,669.4 L1030.0,665.7 L1030.2,664.8 L1029.6,661.5 L1030.5,659.4 L1029.9,656.3 L1030.7,653.5 L1030.5,651.7 L1030.2,648.4 L1030.2,644.2 L1031.0,642.6 L1031.6,638.6 L1031.7,637.7 L1032.0,636.5 L1032.1,633.2 L1032.4,629.9 L1032.1,628.1 L1032.2,625.6 L1033.3,622.1 L1033.5,618.5 L1033.5,616.8 L1033.2,613.5 L1034.5,610.4 L1035.3,609.5 L1036.0,605.3 L1036.9,608.0 L1037.1,611.9 L1037.7,614.0 L1038.2,615.7 L1039.4,618.7 L1040.0,621.8 L1040.8,625.4 L1041.7,627.9 L1042.3,631.0 L1043.4,632.6 L1044.1,634.7 L1044.0,637.5 L1045.2,640.8 L1045.5,642.7 L1046.4,646.9 L1047.1,649.4 L1047.7,651.6 L1049.0,653.1 L1049.3,657.2 L1050.5,653.6 L1051.5,649.5 L1052.5,648.9 L1052.6,645.2 L1053.8,642.8 L1054.8,640.7 L1054.6,636.6 L1055.7,636.2 L1056.4,632.8 L1057.4,630.9 L1058.5,627.8 L1059.6,626.1 L1060.3,623.1 L1061.6,619.6 L1063.7,618.7 L1065.3,617.6 L1065.9,621.4 L1066.8,621.1 L1067.2,625.9 L1068.0,628.6 L1069.5,632.0 L1071.0,634.8 L1072.0,636.5 L1073.8,639.8 L1074.3,639.9 L1075.6,642.4 L1076.5,646.7 L1076.7,649.2 L1076.9,651.2 L1078.0,651.9 L1078.3,656.3 L1078.9,657.0 L1079.4,660.1 L1080.2,664.7 L1080.7,667.4 L1081.1,669.6 L1081.3,671.2 L1082.3,674.7 L1083.1,677.0 L1084.3,680.4 L1087.5,680.2 L1089.8,682.8 L1092.5,683.1 L1094.0,681.6 L1095.2,683.9 L1097.0,687.7 L1099.2,690.1 L1101.2,691.0 L1101.9,693.9 L1103.1,695.6 L1104.3,699.6 L1104.9,702.2 L1106.4,703.7 L1107.1,705.2 L1109.2,707.9 L1109.7,710.0 L1109.6,711.2 L1110.0,714.8 L1110.3,717.3 L1110.1,719.3 L1110.6,722.5 L1111.2,725.2 L1111.2,728.1 L1111.4,729.5 L1111.8,734.2 L1111.9,737.4 L1112.5,738.2 L1112.8,742.8 L1112.7,742.7 L1112.4,745.5 L1113.2,749.7 L1113.1,752.0 L1113.6,754.3 L1113.9,756.1 L1115.1,760.8 L1115.4,761.0 L1115.7,765.3 L1115.9,766.6 L1116.9,770.5 L1117.0,773.2 L1118.1,773.7 L1119.6,776.3 L1120.1,779.9 L1121.7,782.2 L1122.8,785.1 L1125.0,782.9 L1125.9,779.8 L1127.3,782.8 L1127.5,785.8 L1129.1,788.3 L1129.6,791.5 L1130.7,794.9 L1132.1,794.9 L1133.0,799.4 L1133.6,800.5 L1135.2,804.7 L1136.6,805.1 L1137.9,808.5 L1139.5,808.0 L1142.1,805.0 L1143.9,802.9 L1145.5,804.4 L1146.8,807.8 L1148.6,807.9 L1150.0,803.7 L1152.3,806.0 L1154.5,807.9 L1156.3,811.8 L1158.4,811.3 L1159.7,813.5 L1160.5,810.7 L1162.3,811.2 L1163.4,807.6 L1163.8,804.2 L1164.5,803.1 L1166.0,800.2 L1167.4,796.4 L1169.1,794.3 L1171.6,793.3 L1173.9,792.6 L1176.2,788.4 L1178.3,786.8 L1179.4,784.5 L1180.0,781.0 L1180.4,780.9 L1180.1,777.5 L1180.3,775.5 L1181.5,772.2 L1181.7,769.6 L1182.7,766.1 L1182.9,763.5 L1184.2,762.4 L1184.4,758.9 L1185.7,759.0 L1187.3,756.5 L1188.3,761.0 L1189.1,761.9 L1188.8,766.3 L1189.7,766.5 L1189.7,771.2 L1190.3,772.6 L1192.2,772.9 L1193.6,769.9 L1194.9,771.1 L1195.9,773.9 L1196.6,776.6 L1197.8,779.2 L1200.9,778.7 L1203.3,777.3 L1204.9,779.1 L1206.5,783.4 L1208.1,784.0 L1210.8,786.6 L1212.1,787.3 L1213.3,790.7 L1213.5,791.9 L1214.1,794.2 L1215.2,797.5 L1215.6,799.0 L1216.6,802.4 L1217.7,805.7 L1219.5,807.4 L1220.7,810.8 L1221.4,812.3 L1222.0,815.6 L1223.4,818.1 L1225.8,818.2 L1227.9,820.1 L1229.6,815.7 L1230.4,812.3 L1230.9,810.4 L1232.0,807.4 L1234.3,809.8 L1236.2,812.9 L1238.2,808.7 L1239.9,808.1 L1242.3,808.4 L1245.1,807.9 L1245.5,811.9 L1246.0,812.5 L1246.5,814.6 L1246.5,818.8 L1247.0,821.4 L1249.6,821.7 L1251.8,822.8 L1253.7,826.0 L1255.1,825.8 L1256.2,828.7 L1258.4,830.2 L1260.0,833.8 L1260.6,836.3 L1260.5,838.8 L1261.4,841.9 L1261.7,843.8 L1261.6,845.9 L1261.8,849.3 L1262.6,852.6 L1262.5,853.3 L1263.0,858.1 L1263.6,858.1 L1263.6,861.2 L1264.1,865.6 L1264.4,868.3 L1265.5,869.4 L1266.7,873.7 L1268.2,869.7 L1269.1,869.4 L1269.8,871.6 L1269.4,874.4 L1269.8,877.9 L1271.0,881.0 L1271.1,882.5 L1271.8,885.4 L1272.7,887.3 L1274.9,889.9 L1276.1,891.9 L1277.6,893.5 L1278.8,896.0 L1281.0,896.4 L1283.8,898.9 L1285.9,900.0 L1288.0,901.0 L1291.0,902.1 L1292.4,903.2 L1294.5,906.4 L1294.5,902.2 L1295.8,902.0 L1295.7,897.3 L1296.5,893.7 L1296.7,893.2 L1297.3,890.5 L1297.9,887.7 L1299.0,884.7 L1298.9,881.5 L1299.5,878.8 L1302.6,878.7 L1303.2,875.3 L1304.6,872.1 L1305.3,870.8 L1306.0,867.7 L1306.4,863.3 L1307.9,862.1 L1308.9,864.4 L1309.3,867.2 L1310.9,870.5 L1311.7,872.0 L1313.4,875.3 L1316.0,874.1 L1318.5,873.2 L1319.5,874.3 L1320.9,878.5 L1322.6,879.3 L1324.0,883.2 L1325.6,883.2 L1327.8,885.6 L1330.5,885.5 L1333.3,884.4 L1336.3,885.1 L1338.6,886.5 L1340.9,886.3 L1342.3,888.3 L1343.9,886.6 L1346.6,884.7 L1347.9,886.5 L1348.0,890.4 L1349.0,893.7 L1351.6,894.1 L1353.5,895.3 L1355.1,897.4 L1356.3,901.0 L1357.6,898.5 L1359.6,895.4 L1361.5,894.3 L1361.3,890.9 L1362.3,889.2 L1362.9,888.0 L1362.9,884.3 L1365.9,882.7 L1368.3,884.9 L1370.1,886.5 L1373.3,885.6 L1376.4,885.0 L1376.7,888.8 L1376.5,890.0 L1376.9,893.0 L1377.9,896.6 L1377.8,899.7 L1378.0,902.4 L1379.0,903.7 L1379.1,907.5 L1379.6,910.8 L1380.8,913.7 L1381.4,916.1 L1382.1,916.8 L1383.0,919.1 L1383.9,920.9 L1384.6,925.9 L1385.6,926.9 L1386.7,929.5 L1387.0,933.1 L1388.2,936.3 L1390.1,939.1 L1392.7,938.7 L1395.1,942.1 L1397.8,943.8 L1401.0,946.9 L1404.0,946.5 L1406.0,944.8 L1408.8,945.3 L1410.2,947.4 L1411.3,948.1 L1413.0,952.1 L1413.3,949.1 L1414.4,946.5 L1415.5,942.3 L1416.7,941.5 L1419.3,940.4 L1423.0,941.4 L1425.2,941.5 L1427.5,941.8 L1430.1,939.8 L1431.7,940.2 L1433.6,941.1 L1435.4,942.8 L1437.8,943.2 L1440.7,944.0 L1442.3,945.4 L1445.8,943.5 L1447.5,944.5 L1449.8,947.6 L1451.8,943.9 L1453.7,942.7 L1456.0,943.9 L1457.9,940.0 L1460.8,940.5 L1462.7,941.3 L1465.6,943.0 L1467.6,941.6 L1469.7,938.1 L1470.9,935.2 L1473.5,935.9 L1475.6,934.3 L1477.6,931.9 L1480.4,933.3 L1482.4,931.8 L1483.4,927.7 L1485.1,926.8 L1487.8,929.3 L1489.3,930.7 L1491.6,933.4 L1493.6,933.2 L1496.1,930.8 L1497.2,927.8 L1496.7,925.8 L1497.0,922.4 L1497.8,921.6 L1498.4,918.8 L1498.7,914.9 L1499.6,913.3 L1499.2,909.9 L1500.1,906.5 L1500.1,905.5 L1501.2,902.7 L1500.9,898.6 L1501.2,897.5 L1501.7,895.1 L1502.1,890.9 L1502.3,886.9 L1502.8,884.3 L1503.3,881.7 L1504.0,880.4 L1504.0,878.7 L1504.1,875.6 L1504.6,873.4 L1505.2,870.8 L1505.6,867.6 L1506.0,862.9 L1505.8,861.7 L1505.9,858.3 L1506.3,856.7 L1506.6,852.3 L1507.5,850.5 L1508.4,847.2 L1509.7,846.7 L1510.3,843.7 L1511.6,841.3 L1512.1,839.7 L1513.1,837.2 L1514.8,838.5 L1517.1,841.5 L1519.0,842.1 L1521.3,844.1 L1522.0,841.5 L1524.0,841.3 L1524.9,841.7 L1525.8,844.5 L1526.2,843.6 L1527.5,839.3 L1528.6,838.8 L1529.0,835.3 L1531.0,833.8 L1532.9,830.9 L1535.4,827.1 L1537.0,825.8 L1539.9,824.7 L1541.4,826.4 L1543.6,829.2 L1545.5,831.8 L1547.0,832.6 L1548.7,836.2 L1551.1,835.8 L1553.5,831.5 L1555.4,828.3 L1557.1,825.5 L1558.6,825.2 L1560.8,826.4 L1562.7,826.0 L1564.7,827.4 L1567.3,826.1 L1570.6,826.3 L1572.3,827.8 L1575.0,830.9 L1575.0,835.6 L1575.8,835.4 L1576.1,840.9 L1576.9,844.0 L1577.3,844.8 L1578.3,847.3 L1578.7,850.1 L1579.4,854.3 L1579.5,855.0 L1580.4,859.8 L1581.3,861.4 L1581.6,865.9 L1582.2,867.9 L1582.6,870.7 L1583.1,871.5 L1583.3,875.2 L1583.9,877.9 L1584.2,879.9 L1584.4,882.5 L1584.7,887.2 L1584.7,888.2 L1585.9,890.2 L1586.1,893.6 L1586.4,897.5 L1586.8,899.7 L1587.4,900.2 L1588.0,901.9 L1588.7,906.6 L1590.3,909.0 L1591.6,910.6 L1593.2,911.3 L1595.1,908.2 L1596.5,905.8 L1597.7,904.3 L1599.0,908.3 L1601.6,908.9 L1602.6,910.6 L1605.0,912.7 L1606.2,914.8 L1607.4,916.3 L1609.3,917.1 L1610.2,920.0 L1611.9,921.6 L1612.1,923.9 L1612.7,923.0 L1613.7,920.8 L1614.0,917.2 L1614.5,914.5 L1616.5,913.7 L1618.6,909.5 L1621.1,908.7 L1623.1,911.6 L1624.8,909.9 L1627.8,907.8 L1629.0,906.0 L1630.5,907.7 L1633.1,909.9 L1634.2,912.9 L1635.7,915.7 L1636.7,918.2 L1638.5,918.7 L1640.6,916.1 L1642.1,914.5 L1642.5,911.7 L1643.9,908.8 L1644.5,907.6 L1645.2,903.0 L1646.6,902.3 L1647.3,899.1 L1648.9,897.9 L1651.0,896.4 L1652.3,892.0 L1654.5,890.5" fill="none" stroke="#1f7f12" stroke-width="3.6" stroke-linejoin="round" stroke-linecap="round"/>
<path d="M185.2,374.0 L185.2,1034.1 L1655.5,1034.1" fill="none" stroke="#0a0a0a" stroke-width="3.7" stroke-linejoin="miter"/>
<text x="174.9" y="1039.5" font-family='"Liberation Sans", Arial, Helvetica, sans-serif' font-size="18.8" font-weight="normal" text-anchor="end" fill="#000">0.04</text>
<line x1="185.2" y1="960.4" x2="192.7" y2="960.4" stroke="#111" stroke-width="2"/>
<text x="174.9" y="966.4" font-family='"Liberation Sans", Arial, Helvetica, sans-serif' font-size="18.8" font-weight="normal" text-anchor="end" fill="#000">0.06</text>
<line x1="185.2" y1="887.4" x2="192.7" y2="887.4" stroke="#111" stroke-width="2"/>
<text x="174.9" y="893.4" font-family='"Liberation Sans", Arial, Helvetica, sans-serif' font-size="18.8" font-weight="normal" text-anchor="end" fill="#000">0.08</text>
<line x1="185.2" y1="814.3" x2="192.7" y2="814.3" stroke="#111" stroke-width="2"/>
<text x="174.9" y="820.3" font-family='"Liberation Sans", Arial, Helvetica, sans-serif' font-size="18.8" font-weight="normal" text-anchor="end" fill="#000">0.10</text>
<line x1="185.2" y1="741.3" x2="192.7" y2="741.3" stroke="#111" stroke-width="2"/>
<text x="174.9" y="747.3" font-family='"Liberation Sans", Arial, Helvetica, sans-serif' font-size="18.8" font-weight="normal" text-anchor="end" fill="#000">0.12</text>
<line x1="185.2" y1="668.2" x2="192.7" y2="668.2" stroke="#111" stroke-width="2"/>
<text x="174.9" y="674.2" font-family='"Liberation Sans", Arial, Helvetica, sans-serif' font-size="18.8" font-weight="normal" text-anchor="end" fill="#000">0.14</text>
<line x1="185.2" y1="595.2" x2="192.7" y2="595.2" stroke="#111" stroke-width="2"/>
<text x="174.9" y="601.2" font-family='"Liberation Sans", Arial, Helvetica, sans-serif' font-size="18.8" font-weight="normal" text-anchor="end" fill="#000">0.16</text>
<line x1="185.2" y1="522.1" x2="192.7" y2="522.1" stroke="#111" stroke-width="2"/>
<text x="174.9" y="528.1" font-family='"Liberation Sans", Arial, Helvetica, sans-serif' font-size="18.8" font-weight="normal" text-anchor="end" fill="#000">0.18</text>
<line x1="185.2" y1="449.1" x2="192.7" y2="449.1" stroke="#111" stroke-width="2"/>
<text x="174.9" y="455.1" font-family='"Liberation Sans", Arial, Helvetica, sans-serif' font-size="18.8" font-weight="normal" text-anchor="end" fill="#000">0.20</text>
<line x1="185.2" y1="376.0" x2="192.7" y2="376.0" stroke="#111" stroke-width="2"/>
<text x="174.9" y="382.0" font-family='"Liberation Sans", Arial, Helvetica, sans-serif' font-size="18.8" font-weight="normal" text-anchor="end" fill="#000">0.22</text>
<text x="181.6" y="1057.5" font-family='"Liberation Sans", Arial, Helvetica, sans-serif' font-size="22.5" font-weight="normal" text-anchor="middle" fill="#000">Jul 2014</text>
<line x1="309.3" y1="1034.1" x2="309.3" y2="1025.3" stroke="#111" stroke-width="2"/>
<text x="305.0" y="1057.5" font-family='"Liberation Sans", Arial, Helvetica, sans-serif' font-size="22.5" font-weight="normal" text-anchor="middle" fill="#000">Aug 2014</text>
<line x1="434.2" y1="1034.1" x2="434.2" y2="1025.3" stroke="#111" stroke-width="2"/>
<text x="429.9" y="1057.5" font-family='"Liberation Sans", Arial, Helvetica, sans-serif' font-size="22.5" font-weight="normal" text-anchor="middle" fill="#000">Sep 2014</text>
<line x1="554.8" y1="1034.1" x2="554.8" y2="1025.3" stroke="#111" stroke-width="2"/>
<text x="549.0" y="1057.5" font-family='"Liberation Sans", Arial, Helvetica, sans-serif' font-size="22.5" font-weight="normal" text-anchor="middle" fill="#000">Oct 2014</text>
<line x1="680" y1="1034.1" x2="680" y2="1025.3" stroke="#111" stroke-width="2"/>
<text x="674.2" y="1057.5" font-family='"Liberation Sans", Arial, Helvetica, sans-serif' font-size="22.5" font-weight="normal" text-anchor="middle" fill="#000">Nov 2014</text>
<line x1="800.9" y1="1034.1" x2="800.9" y2="1025.3" stroke="#111" stroke-width="2"/>
<text x="795.4" y="1057.5" font-family='"Liberation Sans", Arial, Helvetica, sans-serif' font-size="22.5" font-weight="normal" text-anchor="middle" fill="#000">Dec 2014</text>
<line x1="925.5" y1="1034.1" x2="925.5" y2="1025.3" stroke="#111" stroke-width="2"/>
<text x="923.9" y="1057.5" font-family='"Liberation Sans", Arial, Helvetica, sans-serif' font-size="22.5" font-weight="normal" text-anchor="middle" fill="#000">Jan 2015</text>
<line x1="1050.2" y1="1034.1" x2="1050.2" y2="1025.3" stroke="#111" stroke-width="2"/>
<text x="1045.9" y="1057.5" font-family='"Liberation Sans", Arial, Helvetica, sans-serif' font-size="22.5" font-weight="normal" text-anchor="middle" fill="#000">Feb 2015</text>
<line x1="1162.7" y1="1034.1" x2="1162.7" y2="1025.3" stroke="#111" stroke-width="2"/>
<text x="1158.6" y="1057.5" font-family='"Liberation Sans", Arial, Helvetica, sans-serif' font-size="22.5" font-weight="normal" text-anchor="middle" fill="#000">Mar 2015</text>
<line x1="1288" y1="1034.1" x2="1288" y2="1025.3" stroke="#111" stroke-width="2"/>
<text x="1283.5" y="1057.5" font-family='"Liberation Sans", Arial, Helvetica, sans-serif' font-size="22.5" font-weight="normal" text-anchor="middle" fill="#000">Apr 2015</text>
<line x1="1408.4" y1="1034.1" x2="1408.4" y2="1025.3" stroke="#111" stroke-width="2"/>
<text x="1403.7" y="1057.5" font-family='"Liberation Sans", Arial, Helvetica, sans-serif' font-size="22.5" font-weight="normal" text-anchor="middle" fill="#000">May 2015</text>
<line x1="1533.2" y1="1034.1" x2="1533.2" y2="1025.3" stroke="#111" stroke-width="2"/>
<text x="1531.1" y="1057.5" font-family='"Liberation Sans", Arial, Helvetica, sans-serif' font-size="22.5" font-weight="normal" text-anchor="middle" fill="#000">Jun 2015</text>
<text transform="translate(89.6 974.1) rotate(-90)" font-family='"Liberation Sans", Arial, Helvetica, sans-serif' font-size="29.2" font-weight="normal" fill="#000" textLength="538.2" lengthAdjust="spacingAndGlyphs">Mean Absolute Percent Error (MAPE)</text>
<line x1="1249.5" y1="412" x2="1290" y2="412" stroke="#0a14ff" stroke-width="3"/>
<line x1="1249.5" y1="450.6" x2="1290" y2="450.6" stroke="#1f7f12" stroke-width="3"/>
<line x1="1249.5" y1="489.3" x2="1290" y2="489.3" stroke="#ff0a1e" stroke-width="3"/>
<text x="1316" y="421" font-family='"Liberation Sans", Arial, Helvetica, sans-serif' font-size="25.6" font-weight="normal" text-anchor="start" fill="#000" textLength="192.8" lengthAdjust="spacingAndGlyphs">No SP Learning</text>
<text x="1316.2" y="459.7" font-family='"Liberation Sans", Arial, Helvetica, sans-serif' font-size="25.6" font-weight="normal" text-anchor="start" fill="#000" textLength="314.8" lengthAdjust="spacingAndGlyphs">SP Learning, No Boosting</text>
<text x="1316.2" y="498.2" font-family='"Liberation Sans", Arial, Helvetica, sans-serif' font-size="25.6" font-weight="normal" text-anchor="start" fill="#000" textLength="290.8" lengthAdjust="spacingAndGlyphs">SP Learning &amp; Boosting</text>
<rect x="1647" y="887.2" width="7.5" height="1.4" fill="#222"/>
<rect x="1647" y="960.5" width="7.5" height="1.2" fill="#999"/>
</g>
<g id="panelC">
<rect x="185.60" y="1280.59" width="17.17" height="157.71" fill="#0a2cf5" stroke="#0a0a0a" stroke-width="3" stroke-linejoin="miter"/>
<rect x="202.77" y="1386.77" width="17.17" height="51.53" fill="#0a2cf5" stroke="#0a0a0a" stroke-width="3" stroke-linejoin="miter"/>
<rect x="219.94" y="1408.90" width="17.17" height="29.40" fill="#0a2cf5" stroke="#0a0a0a" stroke-width="3" stroke-linejoin="miter"/>
<rect x="237.11" y="1418.24" width="17.17" height="20.06" fill="#0a2cf5" stroke="#0a0a0a" stroke-width="3" stroke-linejoin="miter"/>
<rect x="254.28" y="1423.08" width="17.17" height="15.22" fill="#0a2cf5" stroke="#0a0a0a" stroke-width="3" stroke-linejoin="miter"/>
<rect x="271.45" y="1425.16" width="17.17" height="13.14" fill="#0a2cf5" stroke="#0a0a0a" stroke-width="3" stroke-linejoin="miter"/>
<rect x="288.62" y="1428.62" width="17.17" height="9.68" fill="#0a2cf5" stroke="#0a0a0a" stroke-width="3" stroke-linejoin="miter"/>
<rect x="305.79" y="1429.31" width="17.17" height="8.99" fill="#0a2cf5" stroke="#0a0a0a" stroke-width="3" stroke-linejoin="miter"/>
<rect x="322.96" y="1430.86" width="17.17" height="7.44" fill="#0a2cf5" stroke="#0a0a0a" stroke-width="3" stroke-linejoin="miter"/>
<rect x="340.13" y="1432.42" width="17.17" height="5.88" fill="#0a2cf5" stroke="#0a0a0a" stroke-width="3" stroke-linejoin="miter"/>
<rect x="357.30" y="1432.77" width="17.17" height="5.53" fill="#0a2cf5" stroke="#0a0a0a" stroke-width="3" stroke-linejoin="miter"/>
<rect x="374.47" y="1434.50" width="17.17" height="3.80" fill="#0a2cf5" stroke="#0a0a0a" stroke-width="3" stroke-linejoin="miter"/>
<rect x="391.64" y="1435.19" width="17.17" height="3.11" fill="#0a2cf5" stroke="#0a0a0a" stroke-width="3" stroke-linejoin="miter"/>
<rect x="408.81" y="1435.53" width="17.17" height="2.77" fill="#0a2cf5" stroke="#0a0a0a" stroke-width="3" stroke-linejoin="miter"/>
<rect x="425.98" y="1435.53" width="17.17" height="2.77" fill="#0a2cf5" stroke="#0a0a0a" stroke-width="3" stroke-linejoin="miter"/>
<rect x="443.15" y="1435.88" width="17.17" height="2.42" fill="#0a2cf5" stroke="#0a0a0a" stroke-width="3" stroke-linejoin="miter"/>
<rect x="460.32" y="1436.57" width="17.17" height="1.73" fill="#0a2cf5" stroke="#0a0a0a" stroke-width="3" stroke-linejoin="miter"/>
<rect x="477.49" y="1436.22" width="17.17" height="2.08" fill="#0a2cf5" stroke="#0a0a0a" stroke-width="3" stroke-linejoin="miter"/>
<rect x="494.66" y="1436.92" width="17.17" height="1.38" fill="#0a2cf5" stroke="#0a0a0a" stroke-width="3" stroke-linejoin="miter"/>
<rect x="511.83" y="1436.57" width="17.17" height="1.73" fill="#0a2cf5" stroke="#0a0a0a" stroke-width="3" stroke-linejoin="miter"/>
<line x1="185.6" y1="1403.71" x2="192.0" y2="1403.71" stroke="#111" stroke-width="1.4"/>
<line x1="529.0" y1="1403.71" x2="522.6" y2="1403.71" stroke="#111" stroke-width="1.4"/>
<line x1="185.6" y1="1369.13" x2="192.0" y2="1369.13" stroke="#111" stroke-width="1.4"/>
<line x1="529.0" y1="1369.13" x2="522.6" y2="1369.13" stroke="#111" stroke-width="1.4"/>
<line x1="185.6" y1="1334.54" x2="192.0" y2="1334.54" stroke="#111" stroke-width="1.4"/>
<line x1="529.0" y1="1334.54" x2="522.6" y2="1334.54" stroke="#111" stroke-width="1.4"/>
<line x1="185.6" y1="1299.96" x2="192.0" y2="1299.96" stroke="#111" stroke-width="1.4"/>
<line x1="529.0" y1="1299.96" x2="522.6" y2="1299.96" stroke="#111" stroke-width="1.4"/>
<line x1="185.6" y1="1265.37" x2="192.0" y2="1265.37" stroke="#111" stroke-width="1.4"/>
<line x1="529.0" y1="1265.37" x2="522.6" y2="1265.37" stroke="#111" stroke-width="1.4"/>
<line x1="185.6" y1="1230.79" x2="192.0" y2="1230.79" stroke="#111" stroke-width="1.4"/>
<line x1="529.0" y1="1230.79" x2="522.6" y2="1230.79" stroke="#111" stroke-width="1.4"/>
<line x1="254.28" y1="1196.2" x2="254.28" y2="1202.6000000000001" stroke="#111" stroke-width="1.4"/>
<line x1="254.28" y1="1438.3" x2="254.28" y2="1431.8999999999999" stroke="#111" stroke-width="1.4"/>
<line x1="322.96" y1="1196.2" x2="322.96" y2="1202.6000000000001" stroke="#111" stroke-width="1.4"/>
<line x1="322.96" y1="1438.3" x2="322.96" y2="1431.8999999999999" stroke="#111" stroke-width="1.4"/>
<line x1="391.64" y1="1196.2" x2="391.64" y2="1202.6000000000001" stroke="#111" stroke-width="1.4"/>
<line x1="391.64" y1="1438.3" x2="391.64" y2="1431.8999999999999" stroke="#111" stroke-width="1.4"/>
<line x1="460.32" y1="1196.2" x2="460.32" y2="1202.6000000000001" stroke="#111" stroke-width="1.4"/>
<line x1="460.32" y1="1438.3" x2="460.32" y2="1431.8999999999999" stroke="#111" stroke-width="1.4"/>
<rect x="185.6" y="1196.2" width="343.4" height="242.0999999999999" fill="none" stroke="#0a0a0a" stroke-width="3.4"/>
<text x="176.8" y="1444.4" font-family='"Liberation Sans", Arial, Helvetica, sans-serif' font-size="19.3" font-weight="normal" text-anchor="end" fill="#000">0.0</text>
<text x="176.8" y="1409.8" font-family='"Liberation Sans", Arial, Helvetica, sans-serif' font-size="19.3" font-weight="normal" text-anchor="end" fill="#000">0.1</text>
<text x="176.8" y="1375.2" font-family='"Liberation Sans", Arial, Helvetica, sans-serif' font-size="19.3" font-weight="normal" text-anchor="end" fill="#000">0.2</text>
<text x="176.8" y="1340.6" font-family='"Liberation Sans", Arial, Helvetica, sans-serif' font-size="19.3" font-weight="normal" text-anchor="end" fill="#000">0.3</text>
<text x="176.8" y="1306.1" font-family='"Liberation Sans", Arial, Helvetica, sans-serif' font-size="19.3" font-weight="normal" text-anchor="end" fill="#000">0.4</text>
<text x="176.8" y="1271.5" font-family='"Liberation Sans", Arial, Helvetica, sans-serif' font-size="19.3" font-weight="normal" text-anchor="end" fill="#000">0.5</text>
<text x="176.8" y="1236.9" font-family='"Liberation Sans", Arial, Helvetica, sans-serif' font-size="19.3" font-weight="normal" text-anchor="end" fill="#000">0.6</text>
<text x="184.6" y="1459.6" font-family='"Liberation Sans", Arial, Helvetica, sans-serif' font-size="19.3" font-weight="normal" text-anchor="middle" fill="#000">0.00</text>
<text x="253.0" y="1459.6" font-family='"Liberation Sans", Arial, Helvetica, sans-serif' font-size="19.3" font-weight="normal" text-anchor="middle" fill="#000">0.02</text>
<text x="321.4" y="1459.6" font-family='"Liberation Sans", Arial, Helvetica, sans-serif' font-size="19.3" font-weight="normal" text-anchor="middle" fill="#000">0.04</text>
<text x="389.7" y="1459.6" font-family='"Liberation Sans", Arial, Helvetica, sans-serif' font-size="19.3" font-weight="normal" text-anchor="middle" fill="#000">0.06</text>
<text x="458.1" y="1459.6" font-family='"Liberation Sans", Arial, Helvetica, sans-serif' font-size="19.3" font-weight="normal" text-anchor="middle" fill="#000">0.08</text>
<text x="526.5" y="1459.6" font-family='"Liberation Sans", Arial, Helvetica, sans-serif' font-size="19.3" font-weight="normal" text-anchor="middle" fill="#000">0.10</text>
<text x="265.6" y="1179.5" font-family='"Liberation Sans", Arial, Helvetica, sans-serif' font-size="26" font-weight="normal" text-anchor="start" fill="#000" textLength="195.0" lengthAdjust="spacingAndGlyphs">No SP Learning</text>
<text transform="translate(135.8 1452.6) rotate(-90)" font-family='"Liberation Sans", Arial, Helvetica, sans-serif' font-size="22.6" font-weight="normal" fill="#000" textLength="236.1" lengthAdjust="spacingAndGlyphs">Fraction of SP Columns</text>
<text x="235.0" y="1496.6" font-family='"Liberation Sans", Arial, Helvetica, sans-serif' font-size="23" font-weight="normal" text-anchor="start" fill="#000" textLength="236.6" lengthAdjust="spacingAndGlyphs">Activation Frequency</text>
<rect x="673.05" y="1259.08" width="16.90" height="173.87" fill="#0a2cf5" stroke="#0a0a0a" stroke-width="3" stroke-linejoin="miter"/>
<rect x="689.95" y="1430.53" width="16.90" height="2.42" fill="#0a2cf5" stroke="#0a0a0a" stroke-width="3" stroke-linejoin="miter"/>
<rect x="706.86" y="1429.83" width="16.90" height="3.12" fill="#0a2cf5" stroke="#0a0a0a" stroke-width="3" stroke-linejoin="miter"/>
<rect x="723.76" y="1428.10" width="16.90" height="4.85" fill="#0a2cf5" stroke="#0a0a0a" stroke-width="3" stroke-linejoin="miter"/>
<rect x="740.66" y="1425.16" width="16.90" height="7.79" fill="#0a2cf5" stroke="#0a0a0a" stroke-width="3" stroke-linejoin="miter"/>
<rect x="757.56" y="1421.52" width="16.90" height="11.43" fill="#0a2cf5" stroke="#0a0a0a" stroke-width="3" stroke-linejoin="miter"/>
<rect x="774.46" y="1410.78" width="16.90" height="22.17" fill="#0a2cf5" stroke="#0a0a0a" stroke-width="3" stroke-linejoin="miter"/>
<rect x="791.37" y="1411.48" width="16.90" height="21.47" fill="#0a2cf5" stroke="#0a0a0a" stroke-width="3" stroke-linejoin="miter"/>
<rect x="808.27" y="1408.84" width="16.90" height="24.11" fill="#0a2cf5" stroke="#0a0a0a" stroke-width="3" stroke-linejoin="miter"/>
<rect x="825.17" y="1408.19" width="16.90" height="24.76" fill="#0a2cf5" stroke="#0a0a0a" stroke-width="3" stroke-linejoin="miter"/>
<rect x="842.08" y="1416.67" width="16.90" height="16.28" fill="#0a2cf5" stroke="#0a0a0a" stroke-width="3" stroke-linejoin="miter"/>
<rect x="858.98" y="1421.87" width="16.90" height="11.08" fill="#0a2cf5" stroke="#0a0a0a" stroke-width="3" stroke-linejoin="miter"/>
<rect x="875.88" y="1424.81" width="16.90" height="8.14" fill="#0a2cf5" stroke="#0a0a0a" stroke-width="3" stroke-linejoin="miter"/>
<rect x="892.78" y="1430.18" width="16.90" height="2.77" fill="#0a2cf5" stroke="#0a0a0a" stroke-width="3" stroke-linejoin="miter"/>
<rect x="909.68" y="1430.87" width="16.90" height="2.08" fill="#0a2cf5" stroke="#0a0a0a" stroke-width="3" stroke-linejoin="miter"/>
<rect x="926.59" y="1431.91" width="16.90" height="1.04" fill="#0a2cf5" stroke="#0a0a0a" stroke-width="3" stroke-linejoin="miter"/>
<rect x="943.49" y="1432.60" width="16.90" height="0.35" fill="#0a2cf5" stroke="#0a0a0a" stroke-width="3" stroke-linejoin="miter"/>
<rect x="960.39" y="1432.78" width="16.90" height="0.17" fill="#0a2cf5" stroke="#0a0a0a" stroke-width="3" stroke-linejoin="miter"/>
<line x1="673.05" y1="1398.31" x2="679.4499999999999" y2="1398.31" stroke="#111" stroke-width="1.4"/>
<line x1="1011.1" y1="1398.31" x2="1004.7" y2="1398.31" stroke="#111" stroke-width="1.4"/>
<line x1="673.05" y1="1363.68" x2="679.4499999999999" y2="1363.68" stroke="#111" stroke-width="1.4"/>
<line x1="1011.1" y1="1363.68" x2="1004.7" y2="1363.68" stroke="#111" stroke-width="1.4"/>
<line x1="673.05" y1="1329.04" x2="679.4499999999999" y2="1329.04" stroke="#111" stroke-width="1.4"/>
<line x1="1011.1" y1="1329.04" x2="1004.7" y2="1329.04" stroke="#111" stroke-width="1.4"/>
<line x1="673.05" y1="1294.41" x2="679.4499999999999" y2="1294.41" stroke="#111" stroke-width="1.4"/>
<line x1="1011.1" y1="1294.41" x2="1004.7" y2="1294.41" stroke="#111" stroke-width="1.4"/>
<line x1="673.05" y1="1259.77" x2="679.4499999999999" y2="1259.77" stroke="#111" stroke-width="1.4"/>
<line x1="1011.1" y1="1259.77" x2="1004.7" y2="1259.77" stroke="#111" stroke-width="1.4"/>
<line x1="673.05" y1="1225.14" x2="679.4499999999999" y2="1225.14" stroke="#111" stroke-width="1.4"/>
<line x1="1011.1" y1="1225.14" x2="1004.7" y2="1225.14" stroke="#111" stroke-width="1.4"/>
<line x1="740.66" y1="1190.5" x2="740.66" y2="1196.9" stroke="#111" stroke-width="1.4"/>
<line x1="740.66" y1="1432.95" x2="740.66" y2="1426.55" stroke="#111" stroke-width="1.4"/>
<line x1="808.27" y1="1190.5" x2="808.27" y2="1196.9" stroke="#111" stroke-width="1.4"/>
<line x1="808.27" y1="1432.95" x2="808.27" y2="1426.55" stroke="#111" stroke-width="1.4"/>
<line x1="875.88" y1="1190.5" x2="875.88" y2="1196.9" stroke="#111" stroke-width="1.4"/>
<line x1="875.88" y1="1432.95" x2="875.88" y2="1426.55" stroke="#111" stroke-width="1.4"/>
<line x1="943.49" y1="1190.5" x2="943.49" y2="1196.9" stroke="#111" stroke-width="1.4"/>
<line x1="943.49" y1="1432.95" x2="943.49" y2="1426.55" stroke="#111" stroke-width="1.4"/>
<rect x="673.05" y="1190.5" width="338.05000000000007" height="242.45000000000005" fill="none" stroke="#0a0a0a" stroke-width="3.4"/>
<text x="663.9" y="1439.0" font-family='"Liberation Sans", Arial, Helvetica, sans-serif' font-size="19.3" font-weight="normal" text-anchor="end" fill="#000">0.0</text>
<text x="663.9" y="1404.4" font-family='"Liberation Sans", Arial, Helvetica, sans-serif' font-size="19.3" font-weight="normal" text-anchor="end" fill="#000">0.1</text>
<text x="663.9" y="1369.8" font-family='"Liberation Sans", Arial, Helvetica, sans-serif' font-size="19.3" font-weight="normal" text-anchor="end" fill="#000">0.2</text>
<text x="663.9" y="1335.1" font-family='"Liberation Sans", Arial, Helvetica, sans-serif' font-size="19.3" font-weight="normal" text-anchor="end" fill="#000">0.3</text>
<text x="663.9" y="1300.5" font-family='"Liberation Sans", Arial, Helvetica, sans-serif' font-size="19.3" font-weight="normal" text-anchor="end" fill="#000">0.4</text>
<text x="663.9" y="1265.9" font-family='"Liberation Sans", Arial, Helvetica, sans-serif' font-size="19.3" font-weight="normal" text-anchor="end" fill="#000">0.5</text>
<text x="663.9" y="1231.2" font-family='"Liberation Sans", Arial, Helvetica, sans-serif' font-size="19.3" font-weight="normal" text-anchor="end" fill="#000">0.6</text>
<text x="672.0" y="1453.9" font-family='"Liberation Sans", Arial, Helvetica, sans-serif' font-size="19.3" font-weight="normal" text-anchor="middle" fill="#000">0.00</text>
<text x="739.3" y="1453.9" font-family='"Liberation Sans", Arial, Helvetica, sans-serif' font-size="19.3" font-weight="normal" text-anchor="middle" fill="#000">0.02</text>
<text x="806.5" y="1453.9" font-family='"Liberation Sans", Arial, Helvetica, sans-serif' font-size="19.3" font-weight="normal" text-anchor="middle" fill="#000">0.04</text>
<text x="873.8" y="1453.9" font-family='"Liberation Sans", Arial, Helvetica, sans-serif' font-size="19.3" font-weight="normal" text-anchor="middle" fill="#000">0.06</text>
<text x="941.1" y="1453.9" font-family='"Liberation Sans", Arial, Helvetica, sans-serif' font-size="19.3" font-weight="normal" text-anchor="middle" fill="#000">0.08</text>
<text x="1008.4" y="1453.9" font-family='"Liberation Sans", Arial, Helvetica, sans-serif' font-size="19.3" font-weight="normal" text-anchor="middle" fill="#000">0.10</text>
<text x="696.6" y="1170.3" font-family='"Liberation Sans", Arial, Helvetica, sans-serif' font-size="26" font-weight="normal" text-anchor="start" fill="#000" textLength="315.0" lengthAdjust="spacingAndGlyphs">SP Learning, No Boosting</text>
<text transform="translate(624.1 1447.0) rotate(-90)" font-family='"Liberation Sans", Arial, Helvetica, sans-serif' font-size="22.6" font-weight="normal" fill="#000" textLength="236.0" lengthAdjust="spacingAndGlyphs">Fraction of SP Columns</text>
<text x="723.3" y="1487.2" font-family='"Liberation Sans", Arial, Helvetica, sans-serif' font-size="23" font-weight="normal" text-anchor="start" fill="#000" textLength="236.6" lengthAdjust="spacingAndGlyphs">Activation Frequency</text>
<rect x="1186.02" y="1430.53" width="17.06" height="2.42" fill="#0a2cf5" stroke="#0a0a0a" stroke-width="3" stroke-linejoin="miter"/>
<rect x="1203.08" y="1367.83" width="17.06" height="65.12" fill="#0a2cf5" stroke="#0a0a0a" stroke-width="3" stroke-linejoin="miter"/>
<rect x="1220.14" y="1190.50" width="17.06" height="242.45" fill="#0a2cf5" stroke="#0a0a0a" stroke-width="3" stroke-linejoin="miter"/>
<rect x="1237.20" y="1397.62" width="17.06" height="35.33" fill="#0a2cf5" stroke="#0a0a0a" stroke-width="3" stroke-linejoin="miter"/>
<line x1="1151.9" y1="1398.31" x2="1158.3000000000002" y2="1398.31" stroke="#111" stroke-width="1.4"/>
<line x1="1493.1" y1="1398.31" x2="1486.6999999999998" y2="1398.31" stroke="#111" stroke-width="1.4"/>
<line x1="1151.9" y1="1363.68" x2="1158.3000000000002" y2="1363.68" stroke="#111" stroke-width="1.4"/>
<line x1="1493.1" y1="1363.68" x2="1486.6999999999998" y2="1363.68" stroke="#111" stroke-width="1.4"/>
<line x1="1151.9" y1="1329.04" x2="1158.3000000000002" y2="1329.04" stroke="#111" stroke-width="1.4"/>
<line x1="1493.1" y1="1329.04" x2="1486.6999999999998" y2="1329.04" stroke="#111" stroke-width="1.4"/>
<line x1="1151.9" y1="1294.41" x2="1158.3000000000002" y2="1294.41" stroke="#111" stroke-width="1.4"/>
<line x1="1493.1" y1="1294.41" x2="1486.6999999999998" y2="1294.41" stroke="#111" stroke-width="1.4"/>
<line x1="1151.9" y1="1259.77" x2="1158.3000000000002" y2="1259.77" stroke="#111" stroke-width="1.4"/>
<line x1="1493.1" y1="1259.77" x2="1486.6999999999998" y2="1259.77" stroke="#111" stroke-width="1.4"/>
<line x1="1151.9" y1="1225.14" x2="1158.3000000000002" y2="1225.14" stroke="#111" stroke-width="1.4"/>
<line x1="1493.1" y1="1225.14" x2="1486.6999999999998" y2="1225.14" stroke="#111" stroke-width="1.4"/>
<line x1="1220.14" y1="1190.5" x2="1220.14" y2="1196.9" stroke="#111" stroke-width="1.4"/>
<line x1="1220.14" y1="1432.95" x2="1220.14" y2="1426.55" stroke="#111" stroke-width="1.4"/>
<line x1="1288.38" y1="1190.5" x2="1288.38" y2="1196.9" stroke="#111" stroke-width="1.4"/>
<line x1="1288.38" y1="1432.95" x2="1288.38" y2="1426.55" stroke="#111" stroke-width="1.4"/>
<line x1="1356.62" y1="1190.5" x2="1356.62" y2="1196.9" stroke="#111" stroke-width="1.4"/>
<line x1="1356.62" y1="1432.95" x2="1356.62" y2="1426.55" stroke="#111" stroke-width="1.4"/>
<line x1="1424.86" y1="1190.5" x2="1424.86" y2="1196.9" stroke="#111" stroke-width="1.4"/>
<line x1="1424.86" y1="1432.95" x2="1424.86" y2="1426.55" stroke="#111" stroke-width="1.4"/>
<rect x="1151.9" y="1190.5" width="341.1999999999998" height="242.45000000000005" fill="none" stroke="#0a0a0a" stroke-width="3.4"/>
<text x="1142.8" y="1439.0" font-family='"Liberation Sans", Arial, Helvetica, sans-serif' font-size="19.3" font-weight="normal" text-anchor="end" fill="#000">0.0</text>
<text x="1142.8" y="1404.4" font-family='"Liberation Sans", Arial, Helvetica, sans-serif' font-size="19.3" font-weight="normal" text-anchor="end" fill="#000">0.1</text>
<text x="1142.8" y="1369.8" font-family='"Liberation Sans", Arial, Helvetica, sans-serif' font-size="19.3" font-weight="normal" text-anchor="end" fill="#000">0.2</text>
<text x="1142.8" y="1335.1" font-family='"Liberation Sans", Arial, Helvetica, sans-serif' font-size="19.3" font-weight="normal" text-anchor="end" fill="#000">0.3</text>
<text x="1142.8" y="1300.5" font-family='"Liberation Sans", Arial, Helvetica, sans-serif' font-size="19.3" font-weight="normal" text-anchor="end" fill="#000">0.4</text>
<text x="1142.8" y="1265.9" font-family='"Liberation Sans", Arial, Helvetica, sans-serif' font-size="19.3" font-weight="normal" text-anchor="end" fill="#000">0.5</text>
<text x="1142.8" y="1231.2" font-family='"Liberation Sans", Arial, Helvetica, sans-serif' font-size="19.3" font-weight="normal" text-anchor="end" fill="#000">0.6</text>
<text x="1150.8" y="1453.9" font-family='"Liberation Sans", Arial, Helvetica, sans-serif' font-size="19.3" font-weight="normal" text-anchor="middle" fill="#000">0.00</text>
<text x="1218.7" y="1453.9" font-family='"Liberation Sans", Arial, Helvetica, sans-serif' font-size="19.3" font-weight="normal" text-anchor="middle" fill="#000">0.02</text>
<text x="1286.7" y="1453.9" font-family='"Liberation Sans", Arial, Helvetica, sans-serif' font-size="19.3" font-weight="normal" text-anchor="middle" fill="#000">0.04</text>
<text x="1354.6" y="1453.9" font-family='"Liberation Sans", Arial, Helvetica, sans-serif' font-size="19.3" font-weight="normal" text-anchor="middle" fill="#000">0.06</text>
<text x="1422.5" y="1453.9" font-family='"Liberation Sans", Arial, Helvetica, sans-serif' font-size="19.3" font-weight="normal" text-anchor="middle" fill="#000">0.08</text>
<text x="1490.4" y="1453.9" font-family='"Liberation Sans", Arial, Helvetica, sans-serif' font-size="19.3" font-weight="normal" text-anchor="middle" fill="#000">0.10</text>
<text x="1166.2" y="1170.3" font-family='"Liberation Sans", Arial, Helvetica, sans-serif' font-size="26" font-weight="normal" text-anchor="start" fill="#000" textLength="290.6" lengthAdjust="spacingAndGlyphs">SP Learning &amp; Boosting</text>
<text transform="translate(1108.8 1447.0) rotate(-90)" font-family='"Liberation Sans", Arial, Helvetica, sans-serif' font-size="22.6" font-weight="normal" fill="#000" textLength="236.0" lengthAdjust="spacingAndGlyphs">Fraction of SP Columns</text>
<text x="1208.4" y="1487.2" font-family='"Liberation Sans", Arial, Helvetica, sans-serif' font-size="23" font-weight="normal" text-anchor="start" fill="#000" textLength="236.6" lengthAdjust="spacingAndGlyphs">Activation Frequency</text>
</g>
</svg>
</body>
</html>
